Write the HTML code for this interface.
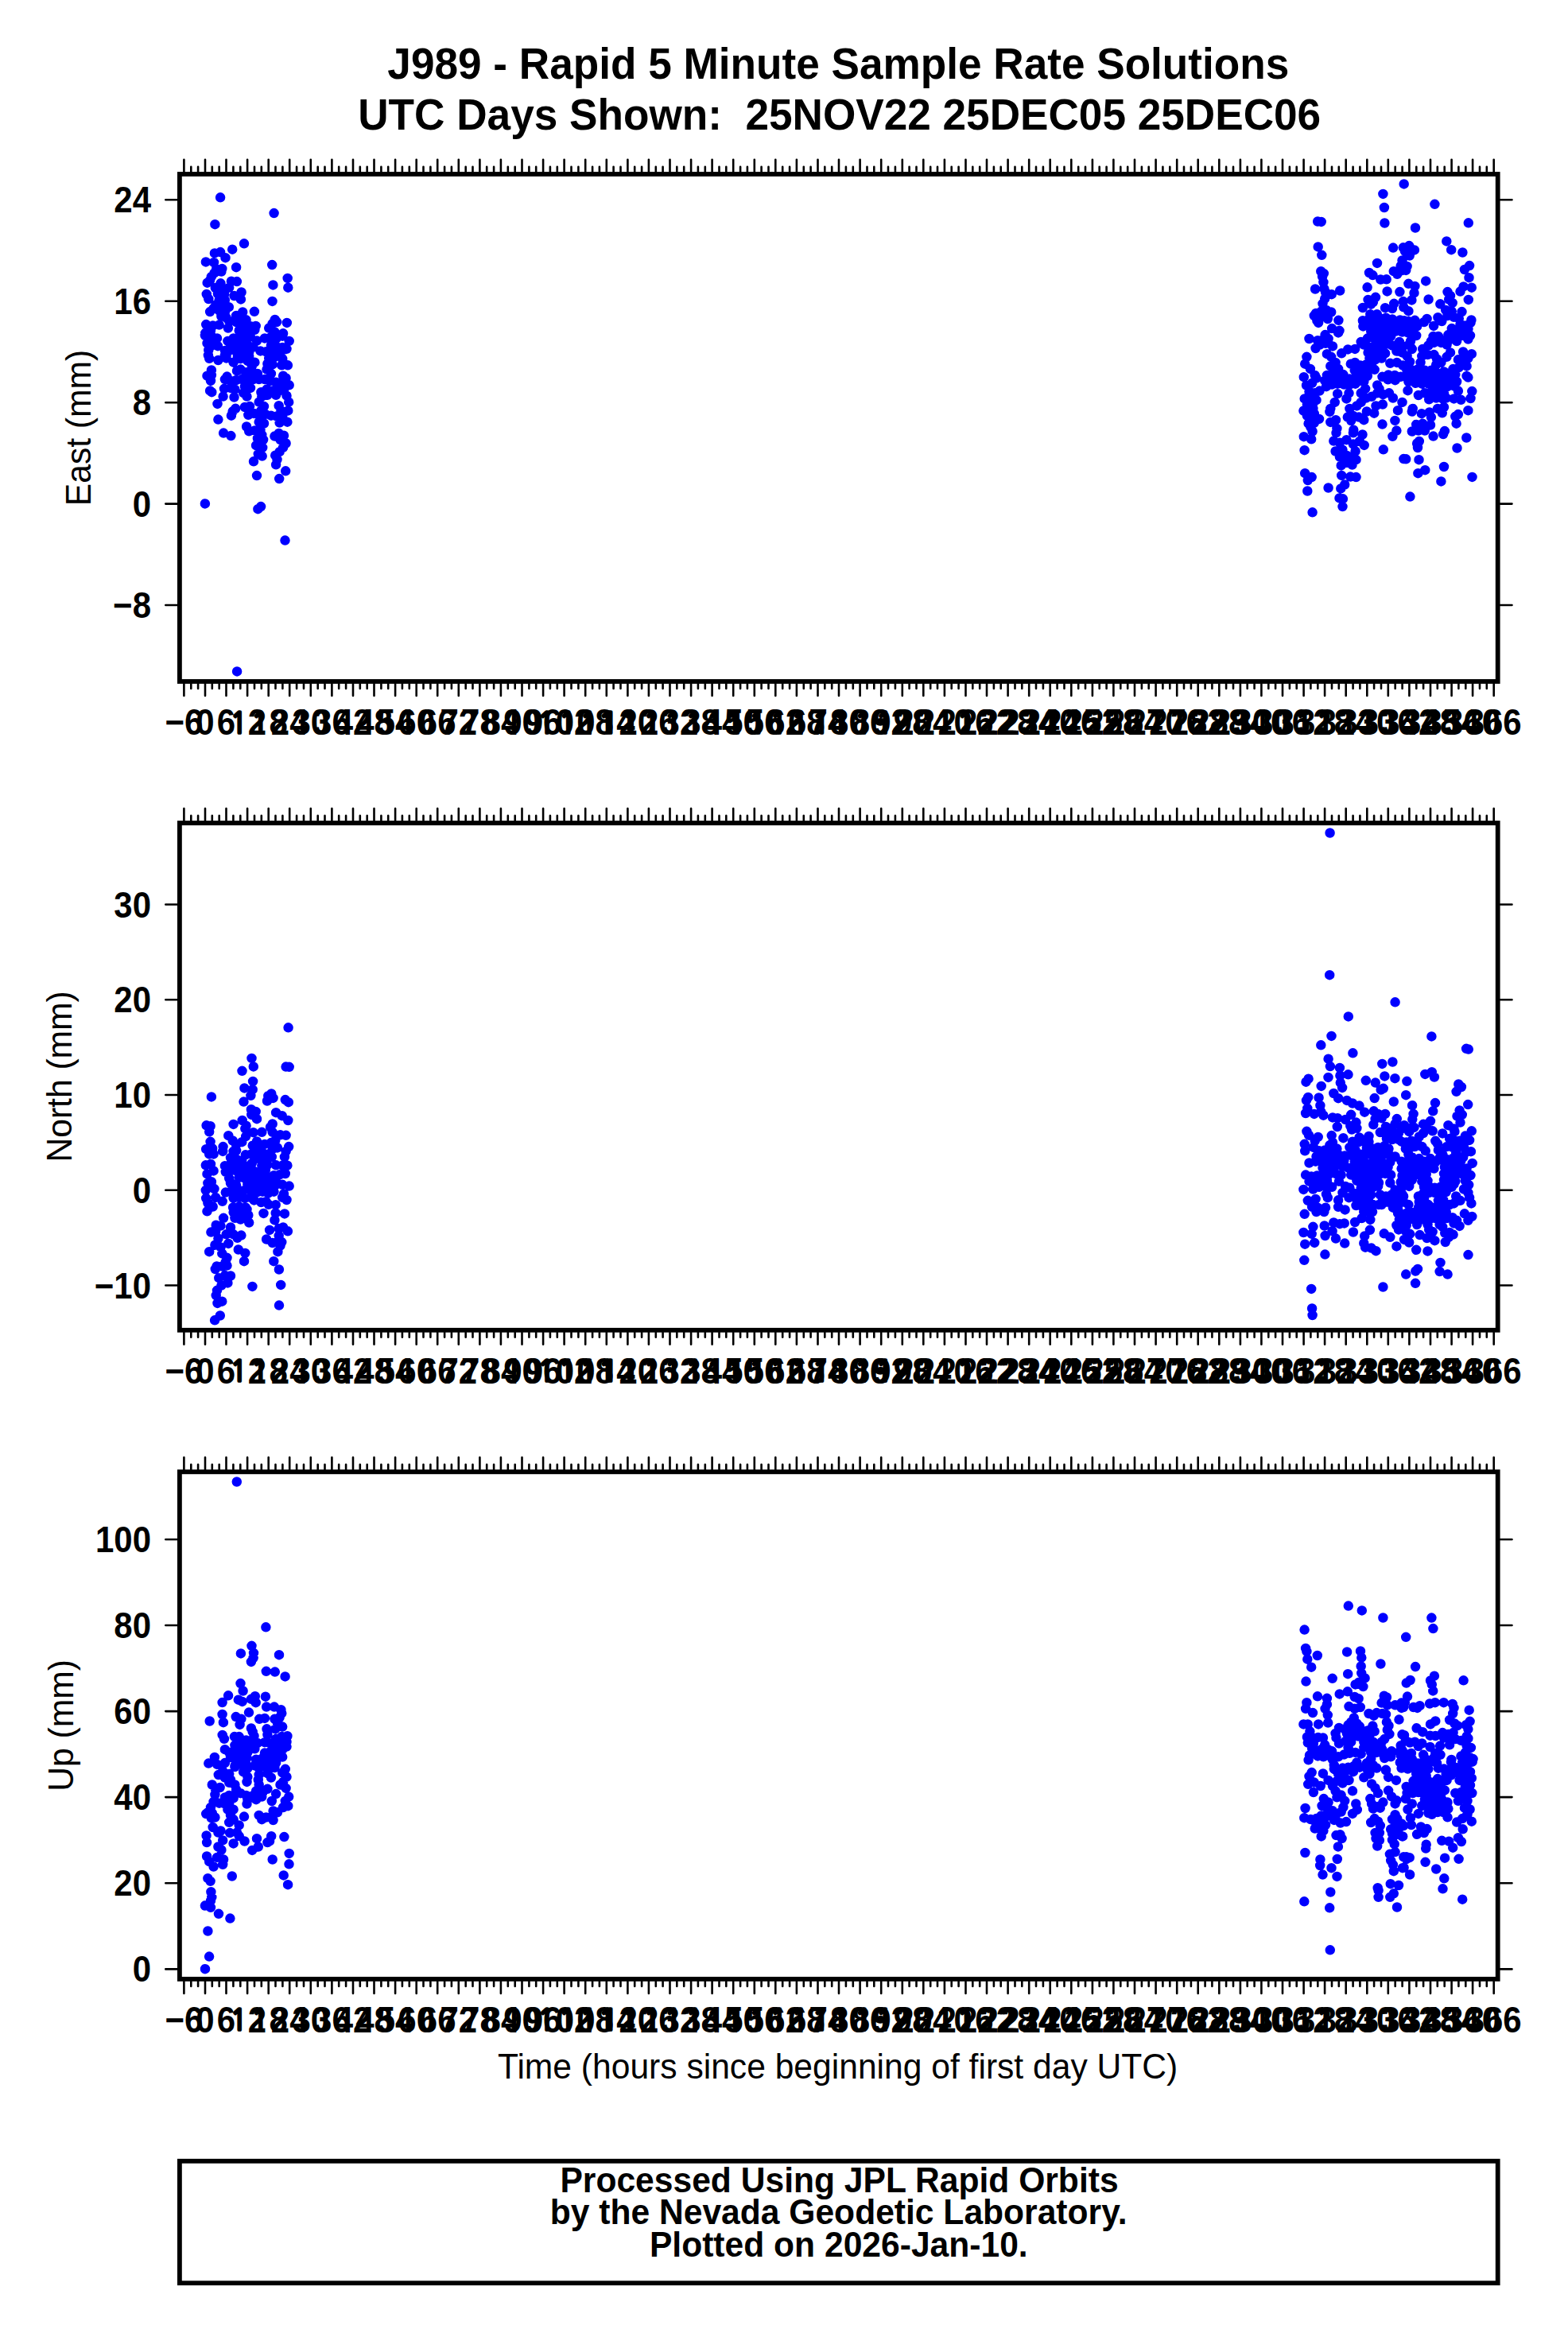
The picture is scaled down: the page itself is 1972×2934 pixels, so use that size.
<!DOCTYPE html><html><head><meta charset="utf-8"><title>J989 - Rapid 5 Minute Sample Rate Solutions</title><style>html,body{margin:0;padding:0;background:#fff;overflow:hidden}svg{display:block}text{font-family:"Liberation Sans",sans-serif;fill:#000}.b{font-weight:bold}.o{font-family:"NanumGothic","Liberation Sans",sans-serif;font-weight:normal;font-size:33.5px;stroke:#000;stroke-width:3.3px;letter-spacing:1.55px;stroke-linejoin:miter;stroke-miterlimit:10}</style></head><body>
<svg width="1972" height="2934" viewBox="0 0 1972 2934">
<rect width="1972" height="2934" fill="#fff"/>
<path d="M277.1 248.3h0M344.6 268.1h0M270.4 282.2h0M307.0 306.3h0M292.2 313.7h0M277.1 317.1h0M269.9 318.4h0M283.5 324.2h0M258.9 329.4h0M269.0 330.0h0M297.1 336.2h0M342.2 333.1h0M279.3 338.0h0M272.1 338.5h0M278.4 341.6h0M269.5 343.4h0M265.9 347.9h0M361.7 349.9h0M260.7 355.7h0M264.1 352.3h0M343.4 358.4h0M362.3 361.7h0M277.5 356.3h0M290.9 353.7h0M297.9 354.1h0M270.8 362.1h0M279.3 362.1h0M288.2 361.7h0M303.6 367.5h0M259.8 370.0h0M262.3 376.0h0M273.9 369.3h0M282.0 370.2h0M294.5 372.0h0M302.9 376.4h0M342.5 378.9h0M275.7 377.3h0M282.9 377.3h0M271.2 383.6h0M279.3 384.5h0M287.8 386.2h0M264.1 392.1h0M268.6 388.0h0M275.7 390.7h0M282.9 392.5h0M305.2 392.5h0M319.9 391.8h0M297.1 397.0h0M345.8 401.9h0M360.8 405.9h0M278.4 397.9h0M284.6 399.6h0M288.2 404.1h0M302.5 399.6h0M309.6 402.3h0M342.7 406.8h0M259.2 408.1h0M267.7 409.5h0M275.7 408.6h0M286.9 412.6h0M338.2 412.6h0M321.7 409.9h0M301.6 408.6h0M309.6 409.5h0M315.9 410.4h0M258.3 418.8h0M265.0 415.7h0M356.1 419.3h0M345.4 417.5h0M300.7 415.7h0M307.9 416.6h0M315.0 417.5h0M320.4 414.8h0M297.1 405.0h0M348.0 405.0h0M257.9 421.8h0M265.9 422.7h0M273.0 425.4h0M260.5 431.6h0M267.7 429.8h0M273.9 435.2h0M286.4 428.9h0M293.6 425.4h0M300.7 423.6h0M307.9 424.5h0M315.0 423.6h0M323.0 428.5h0M332.9 425.4h0M340.0 424.5h0M347.1 426.2h0M355.2 422.7h0M363.7 428.9h0M290.0 435.2h0M297.1 433.4h0M304.3 432.5h0M311.4 433.4h0M316.8 437.0h0M340.9 434.3h0M348.0 436.1h0M355.2 437.0h0M360.5 438.8h0M327.5 441.4h0M334.6 442.3h0M261.9 446.8h0M263.2 450.8h0M274.4 453.0h0M282.9 446.8h0M284.6 450.4h0M293.6 455.7h0M298.9 446.8h0M302.5 451.2h0M313.2 447.7h0M311.4 453.9h0M320.4 455.7h0M316.8 460.2h0M338.2 450.4h0M344.5 449.5h0M355.2 451.2h0M336.4 457.5h0M342.7 458.4h0M354.3 459.3h0M361.9 459.3h0M265.9 465.5h0M260.5 472.7h0M265.9 471.8h0M265.0 478.9h0M266.3 493.2h0M264.1 491.4h0M285.5 473.6h0M282.9 477.1h0M298.0 466.4h0M302.5 464.6h0M309.6 468.2h0M316.8 466.4h0M323.9 470.0h0M335.5 464.6h0M340.9 470.0h0M356.1 472.7h0M359.6 475.4h0M290.0 478.9h0M297.1 478.0h0M304.3 477.1h0M311.4 477.1h0M318.6 477.1h0M325.7 477.1h0M332.9 477.1h0M340.0 478.9h0M347.1 480.7h0M354.3 481.6h0M363.7 484.3h0M282.0 488.8h0M290.0 487.9h0M295.4 489.6h0M307.9 486.1h0M315.0 487.9h0M328.4 493.2h0M335.5 489.6h0M342.7 491.4h0M349.8 492.3h0M357.0 490.5h0M280.6 498.6h0M294.5 499.5h0M306.1 494.1h0M310.5 498.6h0M329.3 498.6h0M336.4 496.8h0M347.1 496.8h0M360.5 497.7h0M273.5 507.9h0M325.7 505.7h0M363.2 505.7h0M296.2 513.8h0M292.7 517.3h0M290.9 522.7h0M307.9 512.0h0M314.1 511.1h0M332.0 511.1h0M350.7 510.2h0M328.4 516.4h0M353.4 516.4h0M362.3 516.4h0M312.3 521.8h0M319.5 520.0h0M326.6 521.8h0M333.8 520.9h0M340.9 522.7h0M348.0 523.6h0M355.2 523.6h0M274.4 527.6h0M325.7 530.7h0M332.0 532.5h0M351.6 531.6h0M361.4 530.7h0M310.1 536.5h0M313.2 542.3h0M320.4 541.4h0M327.5 540.5h0M281.1 544.6h0M290.4 548.1h0M329.3 546.8h0M323.9 551.2h0M331.1 553.0h0M350.7 545.0h0M345.4 548.6h0M357.0 547.7h0M352.5 553.0h0M359.6 557.5h0M322.1 560.2h0M330.2 562.9h0M356.1 562.9h0M324.8 570.9h0M329.7 573.6h0M351.6 568.2h0M346.2 572.7h0M348.5 578.0h0M319.0 580.3h0M347.1 584.3h0M359.2 592.3h0M323.0 598.1h0M351.2 602.1h0M257.9 633.4h0M328.1 637.1h0M324.4 640.2h0M358.5 679.6h0M298.1 844.4h0M262.3 440.2h0M265.9 434.8h0M282.9 441.1h0M290.0 440.2h0M297.1 441.1h0M304.3 441.1h0M311.4 448.2h0M315.9 454.5h0M284.6 447.3h0M298.9 449.1h0M306.1 449.1h0M313.2 442.9h0M318.6 436.6h0M338.2 442.0h0M345.4 445.5h0M352.5 442.9h0M358.8 439.3h0M340.0 448.2h0M355.2 451.8h0M1765.7 231.4h0M1739.4 243.9h0M1740.9 261.0h0M1741.4 280.5h0M1657.2 278.5h0M1661.7 278.9h0M1657.7 310.4h0M1662.3 320.8h0M1752.1 311.6h0M1764.8 311.3h0M1732.0 330.9h0M1763.5 327.4h0M1761.7 334.5h0M1661.3 341.2h0M1664.8 343.9h0M1663.1 347.9h0M1664.4 355.0h0M1722.0 343.0h0M1726.4 346.1h0M1752.8 341.2h0M1757.2 344.8h0M1763.9 339.9h0M1736.3 351.5h0M1743.7 351.3h0M1719.6 361.3h0M1654.1 363.5h0M1665.3 363.1h0M1667.1 367.5h0M1674.7 370.2h0M1685.2 365.5h0M1744.6 366.4h0M1760.4 367.1h0M1730.0 373.8h0M1720.6 376.9h0M1726.9 380.0h0M1724.2 382.7h0M1663.5 381.8h0M1666.2 375.6h0M1713.9 387.0h0M1753.2 381.8h0M1742.1 387.2h0M1751.0 388.1h0M1764.8 379.1h0M1765.3 386.3h0M1655.0 393.9h0M1661.7 391.6h0M1668.0 389.9h0M1674.2 392.5h0M1652.8 397.0h0M1659.9 398.8h0M1667.1 398.8h0M1656.4 403.2h0M1669.8 401.0h0M1658.1 405.9h0M1683.4 402.8h0M1723.3 395.2h0M1731.8 395.2h0M1713.9 403.2h0M1721.5 401.5h0M1728.7 402.4h0M1735.8 400.6h0M1743.0 399.7h0M1751.0 401.5h0M1760.8 402.4h0M1714.4 410.4h0M1722.4 408.6h0M1729.6 409.5h0M1737.6 407.7h0M1745.6 407.7h0M1753.7 408.6h0M1761.7 409.5h0M1675.1 413.1h0M1684.5 415.8h0M1683.1 418.4h0M1724.2 416.6h0M1731.4 418.4h0M1739.4 415.8h0M1747.4 415.8h0M1755.5 416.6h0M1763.5 417.5h0M1666.6 421.1h0M1670.6 426.0h0M1646.5 426.0h0M1657.2 428.2h0M1663.5 427.4h0M1711.7 430.0h0M1719.8 425.6h0M1726.9 424.7h0M1734.0 425.6h0M1742.1 423.8h0M1749.2 422.9h0M1759.9 430.0h0M1804.4 256.8h0M1846.8 280.3h0M1780.0 286.5h0M1819.3 303.4h0M1825.2 314.2h0M1839.4 317.5h0M1772.2 309.1h0M1778.9 314.4h0M1772.7 321.6h0M1766.9 315.8h0M1769.6 334.9h0M1768.2 339.9h0M1848.1 334.1h0M1841.9 339.0h0M1847.5 349.2h0M1793.2 353.4h0M1771.4 356.8h0M1779.4 359.9h0M1840.6 360.4h0M1850.8 361.7h0M1836.5 366.6h0M1778.5 368.4h0M1820.5 367.1h0M1824.0 372.0h0M1822.2 376.5h0M1826.7 380.9h0M1775.4 377.4h0M1796.6 376.5h0M1846.8 376.9h0M1811.3 382.3h0M1771.4 391.2h0M1818.2 389.9h0M1825.8 391.6h0M1838.5 392.1h0M1820.5 397.0h0M1828.5 398.8h0M1834.8 400.6h0M1808.4 399.2h0M1813.3 404.1h0M1794.6 401.0h0M1791.0 405.0h0M1779.4 402.8h0M1771.4 404.1h0M1766.0 403.2h0M1850.4 402.4h0M1849.5 405.9h0M1803.1 409.9h0M1782.1 410.4h0M1774.9 412.2h0M1768.7 411.3h0M1836.5 407.7h0M1842.8 409.5h0M1825.8 413.1h0M1833.0 414.9h0M1840.1 415.8h0M1846.4 414.0h0M1777.6 419.3h0M1770.5 418.4h0M1781.2 422.0h0M1802.6 422.9h0M1808.9 422.9h0M1821.4 421.1h0M1828.5 422.0h0M1835.6 422.9h0M1842.8 422.9h0M1849.0 422.0h0M1774.0 429.1h0M1799.9 429.1h0M1807.1 429.1h0M1816.0 428.2h0M1823.1 427.4h0M1832.1 429.1h0M1846.4 426.5h0M1654.6 438.0h0M1659.9 433.6h0M1676.0 435.4h0M1667.1 431.8h0M1643.4 448.8h0M1668.9 445.2h0M1674.2 448.8h0M1687.2 444.3h0M1695.2 439.4h0M1704.1 438.9h0M1715.3 433.6h0M1722.4 437.1h0M1729.6 433.6h0M1736.7 435.4h0M1743.9 432.7h0M1751.0 434.5h0M1758.1 433.6h0M1764.4 435.4h0M1720.6 443.4h0M1727.8 445.2h0M1734.9 443.4h0M1742.1 444.3h0M1756.4 441.6h0M1763.5 443.4h0M1722.4 450.5h0M1729.6 452.3h0M1737.6 450.5h0M1748.3 456.8h0M1756.8 455.9h0M1764.4 459.5h0M1641.2 457.7h0M1647.9 463.9h0M1679.6 455.9h0M1673.3 460.4h0M1683.1 463.9h0M1698.8 457.7h0M1704.1 455.9h0M1710.8 459.5h0M1718.0 458.6h0M1725.1 459.5h0M1703.7 465.7h0M1710.8 466.6h0M1718.0 465.7h0M1728.7 464.8h0M1639.8 474.2h0M1653.7 472.0h0M1655.5 475.5h0M1668.9 472.0h0M1676.0 470.2h0M1683.1 471.1h0M1689.4 471.1h0M1697.4 476.4h0M1704.6 474.6h0M1711.7 474.6h0M1719.8 472.9h0M1738.5 473.8h0M1746.1 471.5h0M1754.1 472.0h0M1761.7 473.8h0M1745.6 477.3h0M1754.6 478.2h0M1643.0 484.5h0M1650.1 481.8h0M1668.0 486.2h0M1675.1 483.6h0M1682.2 482.7h0M1690.3 483.6h0M1697.4 483.6h0M1704.6 482.7h0M1732.2 484.5h0M1734.5 488.9h0M1717.1 488.9h0M1711.7 494.3h0M1653.7 494.3h0M1659.5 491.6h0M1682.2 495.2h0M1696.5 494.3h0M1747.0 494.3h0M1751.9 500.5h0M1739.4 496.1h0M1732.2 494.3h0M1725.1 498.8h0M1718.0 500.5h0M1640.7 501.4h0M1647.9 503.2h0M1655.5 503.2h0M1693.4 501.4h0M1678.7 505.9h0M1673.3 513.9h0M1672.4 517.9h0M1711.7 505.9h0M1706.4 510.4h0M1730.5 510.4h0M1738.9 508.6h0M1763.5 505.9h0M1697.4 513.9h0M1639.4 516.6h0M1645.6 514.8h0M1651.4 513.9h0M1718.9 517.5h0M1728.2 519.7h0M1758.0 516.2h0M1647.4 525.5h0M1659.0 526.9h0M1694.8 524.6h0M1701.9 522.9h0M1709.0 524.6h0M1715.3 528.2h0M1699.2 529.1h0M1673.3 530.9h0M1680.0 528.2h0M1738.5 533.6h0M1754.4 528.9h0M1645.6 532.7h0M1648.3 537.1h0M1681.4 538.9h0M1680.5 544.3h0M1702.3 540.7h0M1701.9 544.3h0M1713.5 546.5h0M1650.6 542.5h0M1756.4 541.6h0M1751.4 548.8h0M1639.8 549.2h0M1649.2 552.3h0M1693.4 553.2h0M1677.3 554.6h0M1684.9 556.8h0M1709.9 555.0h0M1715.7 559.9h0M1701.9 558.6h0M1739.8 565.3h0M1640.6 566.2h0M1679.6 567.5h0M1688.5 565.7h0M1704.6 567.5h0M1684.9 574.6h0M1693.9 572.9h0M1702.8 576.4h0M1705.5 578.2h0M1686.7 585.4h0M1700.6 584.5h0M1693.9 581.8h0M1765.3 577.1h0M1641.2 595.2h0M1649.7 600.1h0M1644.8 604.1h0M1687.2 597.9h0M1698.3 599.6h0M1705.5 600.1h0M1691.2 609.5h0M1686.3 614.4h0M1670.6 613.5h0M1644.3 617.5h0M1684.5 626.4h0M1688.9 627.3h0M1688.5 637.1h0M1773.1 431.8h0M1775.8 438.9h0M1789.2 438.9h0M1796.4 434.5h0M1803.5 430.9h0M1812.4 430.9h0M1819.6 433.6h0M1824.0 443.4h0M1819.6 448.8h0M1840.1 442.5h0M1850.8 445.2h0M1846.4 450.5h0M1769.6 447.9h0M1773.1 455.0h0M1788.3 447.9h0M1795.5 446.1h0M1803.5 446.1h0M1807.1 451.4h0M1786.5 455.9h0M1806.2 458.6h0M1812.4 455.9h0M1833.9 452.3h0M1841.0 454.1h0M1844.6 460.4h0M1827.6 463.9h0M1834.8 462.1h0M1768.7 463.9h0M1776.7 465.7h0M1783.9 463.9h0M1791.9 465.7h0M1799.9 465.7h0M1805.3 467.5h0M1816.0 467.5h0M1823.1 469.3h0M1830.3 471.1h0M1844.6 472.9h0M1846.4 474.6h0M1769.6 472.9h0M1777.6 473.8h0M1784.8 472.9h0M1792.8 472.9h0M1800.8 474.6h0M1808.9 476.4h0M1816.9 475.5h0M1824.9 477.3h0M1832.1 480.0h0M1771.4 480.0h0M1780.3 481.8h0M1788.3 482.7h0M1796.4 482.7h0M1804.4 483.6h0M1812.4 484.5h0M1820.5 486.2h0M1828.5 485.4h0M1770.5 491.2h0M1833.9 491.6h0M1851.3 492.1h0M1783.9 497.0h0M1791.9 494.3h0M1799.9 492.5h0M1808.0 493.4h0M1816.0 494.3h0M1797.2 502.3h0M1806.2 500.5h0M1814.2 501.4h0M1818.7 500.5h0M1828.5 501.4h0M1837.4 502.8h0M1849.5 501.0h0M1776.7 513.9h0M1775.8 517.5h0M1808.0 513.9h0M1816.0 512.1h0M1813.8 519.3h0M1846.4 516.2h0M1787.9 520.2h0M1797.7 518.4h0M1799.9 524.6h0M1833.9 521.1h0M1830.3 523.8h0M1831.6 532.7h0M1781.2 534.0h0M1789.2 532.7h0M1799.0 534.5h0M1816.9 542.1h0M1815.1 546.1h0M1775.8 542.5h0M1783.9 541.6h0M1791.9 541.6h0M1802.6 548.6h0M1844.3 550.5h0M1784.8 555.0h0M1782.1 557.7h0M1783.0 563.0h0M1832.5 563.5h0M1768.2 577.3h0M1784.5 578.2h0M1816.0 587.0h0M1792.3 591.2h0M1783.4 595.2h0M1851.5 599.9h0M1812.4 605.4h0M1773.4 624.6h0M1650.6 644.3h0M1666.2 478.7h0M1672.4 477.3h0M1678.7 476.9h0M1684.9 476.9h0M1691.2 477.3h0M1695.6 480.0h0M1701.9 479.1h0M1709.0 479.1h0M1715.3 480.0h0M1646.5 492.5h0M1651.0 497.9h0M1643.9 508.6h0M1651.0 508.6h0M1652.8 520.2h0M1643.9 522.9h0M1652.8 531.8h0M362.6 1292.3h0M316.5 1330.9h0M318.8 1341.4h0M304.5 1346.8h0M359.6 1341.6h0M363.7 1341.8h0M318.1 1359.9h0M307.4 1368.4h0M317.7 1370.2h0M315.4 1377.8h0M265.9 1379.4h0M306.5 1385.6h0M341.3 1375.5h0M343.6 1380.9h0M336.0 1384.5h0M337.3 1378.2h0M358.8 1383.1h0M362.8 1386.2h0M315.9 1395.2h0M321.7 1397.9h0M316.3 1401.9h0M323.0 1407.2h0M347.1 1399.2h0M354.7 1403.2h0M362.3 1409.0h0M304.7 1409.0h0M293.6 1413.9h0M309.6 1415.7h0M308.3 1419.3h0M259.6 1415.3h0M264.6 1416.2h0M263.2 1423.3h0M342.7 1413.5h0M340.0 1417.5h0M342.7 1423.8h0M318.6 1424.2h0M329.3 1423.8h0M352.5 1427.3h0M359.6 1427.8h0M287.3 1428.2h0M292.7 1434.5h0M297.1 1439.8h0M309.2 1429.1h0M304.3 1436.2h0M264.6 1435.8h0M323.0 1435.4h0M332.9 1438.9h0M340.9 1437.1h0M346.2 1434.5h0M317.7 1440.7h0M325.7 1443.4h0M259.2 1445.2h0M267.2 1444.3h0M263.2 1451.4h0M268.6 1451.4h0M280.6 1442.1h0M280.2 1447.9h0M293.6 1447.9h0M297.1 1447.0h0M363.2 1442.1h0M359.6 1447.9h0M357.9 1455.0h0M348.9 1443.4h0M342.7 1445.2h0M308.8 1452.3h0M315.9 1451.4h0M323.0 1450.5h0M330.2 1449.6h0M337.3 1451.4h0M341.8 1455.0h0M290.0 1455.9h0M297.1 1457.7h0M304.3 1459.5h0M320.4 1457.7h0M327.5 1456.8h0M334.6 1458.6h0M258.8 1465.3h0M265.0 1463.9h0M282.9 1466.2h0M290.0 1463.9h0M297.1 1464.8h0M304.3 1466.6h0M310.5 1467.5h0M316.8 1463.0h0M329.3 1465.7h0M336.4 1464.8h0M347.1 1465.3h0M355.2 1465.7h0M361.4 1465.7h0M268.6 1472.4h0M260.5 1476.4h0M283.8 1473.8h0M290.9 1472.0h0M298.0 1472.9h0M305.2 1474.6h0M312.3 1473.8h0M319.5 1472.9h0M326.6 1473.8h0M333.8 1472.0h0M358.8 1476.0h0M351.6 1477.3h0M344.5 1478.2h0M288.2 1481.8h0M300.7 1480.9h0M307.9 1481.8h0M315.0 1480.9h0M322.1 1480.9h0M329.3 1480.9h0M336.4 1480.0h0M265.9 1486.2h0M261.4 1488.0h0M290.0 1487.1h0M311.4 1487.1h0M318.6 1487.1h0M325.7 1487.1h0M332.9 1487.1h0M340.0 1486.2h0M347.1 1484.5h0M262.3 1488.0h0M258.8 1496.9h0M269.5 1495.1h0M290.0 1488.0h0M297.1 1490.7h0M311.4 1489.8h0M318.6 1490.7h0M325.7 1489.8h0M332.9 1490.7h0M340.0 1489.8h0M347.1 1489.8h0M355.2 1489.8h0M363.7 1491.6h0M283.8 1499.6h0M290.9 1497.8h0M298.0 1498.7h0M305.2 1497.8h0M315.9 1497.8h0M323.0 1499.6h0M330.2 1498.7h0M337.3 1500.5h0M344.5 1498.7h0M357.0 1501.4h0M355.2 1505.9h0M360.5 1509.0h0M259.2 1506.8h0M261.4 1513.0h0M271.2 1505.9h0M279.7 1510.8h0M293.6 1506.8h0M300.7 1505.9h0M307.9 1506.8h0M315.0 1505.9h0M319.5 1509.4h0M328.4 1512.1h0M334.6 1511.2h0M337.8 1514.8h0M346.7 1515.2h0M267.7 1517.5h0M260.5 1523.3h0M293.1 1518.4h0M300.7 1517.5h0M308.8 1518.4h0M310.5 1521.0h0M331.5 1525.9h0M346.7 1525.5h0M357.9 1526.4h0M281.1 1531.8h0M295.4 1531.8h0M302.5 1530.0h0M312.3 1528.2h0M302.5 1533.5h0M345.4 1534.4h0M313.2 1537.6h0M271.7 1540.7h0M277.5 1541.6h0M290.0 1543.4h0M339.1 1546.9h0M350.7 1545.1h0M356.1 1543.4h0M361.9 1548.3h0M265.4 1549.6h0M271.2 1548.7h0M284.6 1552.3h0M293.6 1552.3h0M303.4 1553.6h0M298.5 1556.8h0M350.7 1554.1h0M274.4 1557.6h0M335.1 1558.5h0M342.7 1563.0h0M349.8 1561.2h0M354.3 1562.1h0M287.3 1563.9h0M270.4 1565.7h0M277.5 1568.4h0M352.5 1566.6h0M263.2 1574.2h0M299.8 1571.5h0M308.3 1575.9h0M349.4 1574.2h0M279.3 1576.4h0M285.5 1581.8h0M307.0 1586.2h0M344.3 1586.2h0M272.6 1592.5h0M270.8 1596.0h0M279.3 1592.5h0M285.5 1591.6h0M283.8 1587.1h0M350.9 1596.5h0M290.0 1604.5h0M282.9 1604.1h0M275.3 1607.2h0M286.4 1613.4h0M278.4 1616.6h0M317.4 1617.9h0M353.2 1615.9h0M273.0 1622.8h0M271.7 1629.1h0M279.3 1636.7h0M273.5 1638.9h0M351.0 1641.6h0M276.8 1654.5h0M270.1 1660.3h0M293.6 1524.6h0M300.7 1523.7h0M307.9 1524.6h0M297.1 1527.3h0M306.1 1528.2h0M1672.6 1047.5h0M1672.2 1226.2h0M1754.6 1260.3h0M1695.8 1278.4h0M1674.5 1302.9h0M1661.3 1314.3h0M1701.4 1324.3h0M1670.6 1331.7h0M1672.9 1341.1h0M1684.9 1342.9h0M1738.3 1337.9h0M1751.4 1335.5h0M1695.5 1351.3h0M1685.4 1352.7h0M1670.5 1354.9h0M1645.6 1356.7h0M1642.5 1360.7h0M1741.4 1353.4h0M1754.4 1356.2h0M1717.8 1358.8h0M1729.8 1361.6h0M1685.8 1361.6h0M1688.1 1367.9h0M1661.7 1365.9h0M1739.8 1368.8h0M1736.7 1370.5h0M1677.3 1375.0h0M1683.1 1381.2h0M1645.2 1379.9h0M1643.0 1383.9h0M1658.6 1380.4h0M1660.4 1390.2h0M1728.7 1381.1h0M1752.8 1385.5h0M1693.9 1383.9h0M1701.0 1387.5h0M1709.5 1390.6h0M1644.3 1393.8h0M1642.1 1400.0h0M1652.8 1400.9h0M1716.2 1398.7h0M1661.3 1398.2h0M1664.4 1402.7h0M1727.8 1397.3h0M1733.1 1400.9h0M1742.1 1400.9h0M1676.0 1405.4h0M1682.2 1406.2h0M1699.2 1401.8h0M1692.1 1408.0h0M1705.5 1411.6h0M1737.6 1406.2h0M1729.6 1407.1h0M1756.8 1407.1h0M1754.6 1413.4h0M1727.3 1414.3h0M1681.8 1417.0h0M1698.3 1416.1h0M1706.4 1418.8h0M1700.1 1420.5h0M1743.0 1417.0h0M1750.1 1418.8h0M1735.8 1424.1h0M1743.0 1425.0h0M1751.0 1425.9h0M1759.0 1425.0h0M1762.6 1419.6h0M1643.4 1422.8h0M1646.1 1427.7h0M1657.7 1429.9h0M1653.7 1434.8h0M1674.7 1428.1h0M1689.4 1431.2h0M1709.5 1430.4h0M1721.5 1429.0h0M1759.0 1433.0h0M1751.0 1433.0h0M1743.9 1432.1h0M1762.6 1435.7h0M1640.7 1438.8h0M1676.0 1436.6h0M1672.4 1440.2h0M1701.0 1435.7h0M1708.1 1436.6h0M1715.3 1435.7h0M1721.5 1435.7h0M1641.2 1447.3h0M1651.9 1442.9h0M1659.0 1447.3h0M1666.2 1446.4h0M1674.2 1446.4h0M1681.4 1444.6h0M1697.4 1442.9h0M1704.6 1446.4h0M1718.9 1443.8h0M1726.0 1444.6h0M1733.1 1442.9h0M1741.2 1441.1h0M1746.5 1444.6h0M1655.5 1454.5h0M1662.6 1454.5h0M1669.8 1453.6h0M1676.9 1453.6h0M1684.0 1452.7h0M1691.2 1453.6h0M1698.3 1452.7h0M1704.6 1454.5h0M1711.7 1451.8h0M1718.9 1451.8h0M1726.0 1452.7h0M1733.1 1451.8h0M1740.3 1451.8h0M1747.4 1452.7h0M1754.6 1454.5h0M1800.4 1303.4h0M1844.1 1318.8h0M1846.8 1319.6h0M1800.8 1348.2h0M1792.3 1350.9h0M1803.9 1354.5h0M1769.4 1359.8h0M1834.3 1363.4h0M1837.9 1367.0h0M1831.6 1372.8h0M1768.2 1377.2h0M1805.0 1387.1h0M1776.1 1390.2h0M1846.2 1389.1h0M1802.2 1397.3h0M1835.6 1396.4h0M1838.8 1401.8h0M1832.5 1403.6h0M1777.6 1400.9h0M1776.3 1407.6h0M1799.0 1409.8h0M1790.1 1413.8h0M1836.5 1411.6h0M1821.4 1415.2h0M1828.5 1419.6h0M1829.4 1423.2h0M1850.8 1422.3h0M1766.0 1415.2h0M1771.4 1418.8h0M1778.5 1417.9h0M1772.2 1423.2h0M1814.2 1425.4h0M1795.5 1419.6h0M1801.7 1422.3h0M1790.1 1425.0h0M1784.8 1429.5h0M1842.8 1428.6h0M1848.1 1433.9h0M1774.9 1434.8h0M1768.7 1436.6h0M1782.1 1435.7h0M1805.3 1434.8h0M1808.0 1438.4h0M1823.1 1432.1h0M1828.5 1433.9h0M1835.6 1434.8h0M1842.8 1435.7h0M1788.3 1442.0h0M1792.8 1447.3h0M1773.1 1443.8h0M1767.8 1444.6h0M1779.4 1442.0h0M1819.6 1442.0h0M1826.7 1442.9h0M1833.9 1442.0h0M1841.0 1442.9h0M1808.9 1446.4h0M1814.2 1451.8h0M1849.9 1448.2h0M1843.7 1449.1h0M1831.2 1450.0h0M1771.4 1451.8h0M1775.8 1455.4h0M1784.8 1457.1h0M1799.0 1457.1h0M1810.6 1456.2h0M1817.8 1457.1h0M1826.7 1457.1h0M1833.9 1456.2h0M1840.1 1455.4h0M1646.5 1462.5h0M1654.6 1460.7h0M1661.7 1459.8h0M1668.9 1461.6h0M1676.0 1459.8h0M1683.1 1461.6h0M1690.3 1459.8h0M1703.7 1460.7h0M1710.8 1459.8h0M1718.0 1463.4h0M1726.9 1460.7h0M1734.0 1459.8h0M1741.2 1463.4h0M1748.3 1461.6h0M1762.6 1460.7h0M1663.5 1468.7h0M1670.6 1467.8h0M1678.7 1466.9h0M1688.5 1466.9h0M1695.6 1468.7h0M1702.8 1467.8h0M1709.9 1466.9h0M1717.1 1468.7h0M1724.2 1467.8h0M1731.4 1466.9h0M1738.5 1468.7h0M1745.6 1467.8h0M1762.6 1469.6h0M1642.1 1477.6h0M1649.2 1479.4h0M1656.4 1478.5h0M1663.5 1476.8h0M1670.6 1477.6h0M1679.6 1475.9h0M1686.7 1477.6h0M1699.2 1477.6h0M1706.4 1475.9h0M1713.5 1476.8h0M1720.6 1475.9h0M1727.8 1477.6h0M1734.9 1476.8h0M1742.1 1475.9h0M1749.2 1477.6h0M1763.5 1478.5h0M1646.5 1485.7h0M1653.7 1487.5h0M1661.7 1485.7h0M1668.9 1484.8h0M1684.0 1485.7h0M1706.4 1484.8h0M1713.5 1485.7h0M1720.6 1484.8h0M1727.8 1485.7h0M1734.0 1487.5h0M1748.3 1487.5h0M1761.7 1486.6h0M1639.4 1495.9h0M1651.4 1495.5h0M1659.0 1492.8h0M1667.1 1491.9h0M1675.1 1492.8h0M1692.1 1491.9h0M1697.4 1493.7h0M1711.7 1493.7h0M1718.9 1492.8h0M1726.0 1493.7h0M1733.1 1491.9h0M1754.6 1496.4h0M1762.6 1493.7h0M1668.0 1501.8h0M1669.8 1506.2h0M1688.5 1500.0h0M1696.5 1506.2h0M1703.7 1500.9h0M1710.8 1501.8h0M1718.0 1500.9h0M1724.2 1502.6h0M1735.8 1502.6h0M1743.0 1504.4h0M1750.1 1502.6h0M1757.2 1503.5h0M1763.5 1501.8h0M1644.8 1509.8h0M1654.6 1508.0h0M1683.1 1509.3h0M1706.4 1508.9h0M1713.5 1509.8h0M1720.6 1508.9h0M1738.5 1510.7h0M1745.6 1511.6h0M1752.8 1510.7h0M1759.9 1509.8h0M1765.3 1511.6h0M1650.1 1517.8h0M1657.2 1518.7h0M1667.1 1518.7h0M1683.1 1517.8h0M1691.6 1521.4h0M1705.5 1516.0h0M1712.6 1516.9h0M1719.8 1516.0h0M1726.9 1515.1h0M1734.0 1515.1h0M1737.6 1515.1h0M1751.9 1518.7h0M1758.1 1520.5h0M1640.7 1526.8h0M1655.5 1524.1h0M1665.3 1524.1h0M1715.3 1524.1h0M1722.4 1525.0h0M1726.0 1524.1h0M1758.1 1525.9h0M1764.4 1527.6h0M1712.6 1532.1h0M1723.3 1533.9h0M1759.9 1533.9h0M1677.3 1537.5h0M1684.9 1539.2h0M1690.7 1538.4h0M1665.7 1541.5h0M1704.1 1537.0h0M1651.4 1542.8h0M1756.4 1541.0h0M1763.5 1542.8h0M1759.0 1546.4h0M1639.4 1550.0h0M1649.7 1551.8h0M1675.6 1548.2h0M1666.6 1554.0h0M1680.0 1557.6h0M1701.9 1549.5h0M1722.9 1546.8h0M1716.2 1554.4h0M1715.3 1563.4h0M1717.1 1568.7h0M1724.7 1569.6h0M1730.5 1573.2h0M1740.7 1551.3h0M1748.3 1555.8h0M1641.2 1564.7h0M1653.2 1562.9h0M1691.2 1563.6h0M1756.4 1567.4h0M1666.4 1577.6h0M1640.3 1584.8h0M1739.4 1618.5h0M1649.2 1620.9h0M1650.1 1645.5h0M1650.6 1654.0h0M1769.6 1460.7h0M1776.7 1459.8h0M1783.9 1461.6h0M1791.0 1460.7h0M1798.1 1459.8h0M1805.3 1461.6h0M1816.0 1460.7h0M1823.1 1459.8h0M1830.3 1461.6h0M1837.4 1459.8h0M1851.7 1462.9h0M1768.7 1467.8h0M1775.8 1468.7h0M1783.0 1467.8h0M1790.1 1469.6h0M1797.2 1467.8h0M1803.5 1469.6h0M1816.9 1467.8h0M1824.0 1466.0h0M1830.3 1468.7h0M1837.4 1467.8h0M1844.6 1469.6h0M1767.8 1477.6h0M1774.9 1477.6h0M1782.1 1476.8h0M1789.2 1478.5h0M1793.7 1476.8h0M1816.0 1475.9h0M1823.1 1476.8h0M1830.3 1477.6h0M1837.4 1475.9h0M1844.6 1476.8h0M1849.5 1478.1h0M1768.7 1485.7h0M1775.8 1483.9h0M1788.3 1485.7h0M1795.5 1484.8h0M1816.0 1483.9h0M1823.1 1484.8h0M1830.3 1485.7h0M1842.8 1484.8h0M1847.2 1490.1h0M1772.2 1491.9h0M1791.0 1492.8h0M1797.2 1491.9h0M1804.4 1493.7h0M1811.5 1492.8h0M1818.7 1491.9h0M1825.8 1492.8h0M1828.5 1489.2h0M1841.0 1495.5h0M1846.4 1500.0h0M1765.1 1504.4h0M1783.9 1504.4h0M1790.1 1500.9h0M1797.2 1500.0h0M1804.4 1500.0h0M1811.5 1500.9h0M1818.7 1499.1h0M1831.2 1504.4h0M1836.5 1509.8h0M1848.1 1506.2h0M1771.4 1515.1h0M1784.8 1511.6h0M1791.0 1508.0h0M1796.4 1515.1h0M1808.9 1509.8h0M1815.1 1508.9h0M1823.1 1515.1h0M1828.5 1513.4h0M1850.4 1513.4h0M1783.9 1518.7h0M1791.0 1519.6h0M1803.5 1518.7h0M1810.6 1516.9h0M1816.9 1517.8h0M1768.7 1525.9h0M1775.8 1525.0h0M1783.0 1525.9h0M1790.1 1526.8h0M1797.2 1525.0h0M1804.4 1525.9h0M1811.5 1525.0h0M1818.7 1524.1h0M1841.9 1526.3h0M1851.3 1529.9h0M1767.8 1533.0h0M1776.7 1533.0h0M1783.9 1532.1h0M1791.0 1533.9h0M1798.1 1533.0h0M1805.3 1532.1h0M1812.4 1533.9h0M1819.6 1532.1h0M1826.7 1531.2h0M1832.1 1534.8h0M1846.4 1534.8h0M1768.7 1541.0h0M1782.1 1540.1h0M1795.5 1540.1h0M1810.6 1540.1h0M1814.2 1542.8h0M1835.6 1541.9h0M1828.5 1538.4h0M1767.8 1548.2h0M1773.1 1551.8h0M1797.2 1546.4h0M1801.7 1549.1h0M1785.6 1553.1h0M1794.6 1557.1h0M1804.4 1560.2h0M1817.3 1550.9h0M1823.1 1550.0h0M1827.6 1552.6h0M1821.8 1556.2h0M1817.8 1562.0h0M1766.0 1558.9h0M1772.2 1562.5h0M1781.2 1571.8h0M1795.5 1573.4h0M1846.5 1578.1h0M1811.5 1587.9h0M1783.0 1595.9h0M1780.3 1598.6h0M1810.6 1599.1h0M1820.6 1602.6h0M1768.2 1602.6h0M1780.1 1613.8h0M297.8 1863.5h0M334.4 2046.3h0M316.5 2069.8h0M319.0 2078.8h0M318.6 2085.0h0M315.9 2089.9h0M302.9 2079.4h0M351.0 2081.2h0M334.8 2101.8h0M345.8 2102.6h0M358.6 2108.4h0M302.5 2117.1h0M305.6 2126.5h0M287.1 2132.3h0M279.6 2141.1h0M333.9 2133.7h0M299.8 2137.7h0M304.7 2139.9h0M320.8 2133.2h0M315.9 2136.8h0M321.7 2141.2h0M335.1 2146.6h0M344.9 2146.6h0M353.4 2150.2h0M354.3 2154.6h0M313.0 2153.6h0M279.6 2156.0h0M280.9 2166.2h0M263.7 2164.5h0M296.7 2159.1h0M303.4 2161.8h0M301.6 2168.9h0M326.2 2161.8h0M332.9 2160.9h0M345.4 2161.8h0M351.6 2160.0h0M348.9 2167.1h0M355.2 2171.6h0M315.9 2173.4h0M317.7 2177.9h0M319.5 2183.2h0M335.5 2174.3h0M336.4 2181.4h0M346.2 2174.3h0M279.7 2181.9h0M282.0 2186.8h0M294.9 2184.1h0M300.7 2184.1h0M361.4 2183.2h0M354.3 2184.1h0M347.1 2186.8h0M360.5 2190.4h0M353.4 2192.1h0M346.2 2193.9h0M339.1 2192.1h0M332.9 2191.2h0M309.6 2188.6h0M316.8 2190.4h0M323.9 2192.1h0M295.4 2194.8h0M302.5 2193.9h0M282.9 2200.2h0M288.2 2203.8h0M360.5 2196.6h0M355.2 2200.2h0M309.6 2195.7h0M320.4 2199.3h0M316.8 2196.6h0M297.1 2202.9h0M304.3 2204.6h0M311.4 2203.8h0M332.9 2204.6h0M340.0 2202.9h0M347.1 2204.6h0M269.9 2210.0h0M273.0 2218.9h0M262.3 2217.6h0M282.9 2217.1h0M290.0 2210.0h0M297.1 2210.9h0M304.3 2211.8h0M310.5 2210.9h0M322.1 2212.7h0M329.3 2211.8h0M336.4 2210.9h0M343.6 2210.0h0M355.2 2209.6h0M295.4 2220.7h0M302.5 2218.9h0M308.8 2217.1h0M320.4 2219.8h0M327.5 2218.9h0M334.6 2218.0h0M341.8 2218.9h0M347.1 2217.1h0M274.4 2304.6h0M259.6 2308.4h0M260.1 2317.1h0M289.1 2305.1h0M298.0 2304.6h0M300.7 2309.1h0M307.6 2315.5h0M323.0 2312.2h0M341.2 2309.2h0M339.1 2315.3h0M336.4 2317.1h0M357.4 2310.1h0M280.2 2314.4h0M293.6 2318.4h0M274.4 2322.5h0M278.4 2326.5h0M324.8 2322.5h0M317.2 2326.9h0M363.7 2330.9h0M342.7 2338.5h0M260.1 2334.5h0M263.2 2341.2h0M268.6 2347.5h0M273.0 2335.9h0M281.1 2338.5h0M280.2 2344.8h0M363.5 2344.3h0M291.8 2359.5h0M261.4 2362.2h0M264.6 2365.8h0M356.7 2358.4h0M362.1 2370.2h0M265.4 2379.2h0M266.3 2385.9h0M265.0 2390.3h0M257.9 2396.6h0M265.0 2398.8h0M275.0 2406.8h0M289.4 2412.6h0M261.4 2428.5h0M263.1 2460.6h0M258.0 2476.2h0M306.1 2228.4h0M310.5 2240.9h0M311.4 2234.6h0M320.4 2220.4h0M325.7 2223.9h0M332.9 2222.1h0M340.0 2223.9h0M345.4 2223.0h0M274.8 2232.0h0M280.2 2227.5h0M282.9 2235.5h0M288.2 2231.1h0M358.8 2224.8h0M355.2 2229.3h0M340.9 2235.5h0M336.4 2230.2h0M325.7 2232.0h0M324.8 2238.2h0M325.7 2244.5h0M360.5 2234.6h0M356.1 2240.9h0M288.2 2241.8h0M295.4 2244.5h0M290.0 2238.2h0M266.8 2244.5h0M271.2 2250.7h0M276.6 2248.0h0M352.5 2244.5h0M359.6 2248.9h0M336.4 2249.8h0M330.2 2254.3h0M322.1 2252.5h0M318.6 2257.9h0M323.9 2259.6h0M329.3 2259.6h0M297.1 2250.7h0M302.5 2255.2h0M309.6 2257.9h0M311.4 2263.2h0M270.4 2257.0h0M282.9 2260.5h0M288.2 2257.9h0M293.6 2261.4h0M347.1 2256.1h0M341.8 2265.0h0M363.2 2259.6h0M358.8 2265.0h0M322.1 2263.2h0M310.5 2268.6h0M268.6 2265.9h0M275.7 2267.7h0M282.9 2268.6h0M288.2 2268.6h0M362.3 2271.2h0M356.1 2273.0h0M265.0 2273.0h0M261.4 2279.3h0M266.8 2280.2h0M286.4 2275.7h0M293.6 2275.7h0M343.6 2277.5h0M348.9 2279.3h0M341.8 2284.6h0M325.7 2282.9h0M329.3 2288.2h0M307.0 2284.6h0M290.0 2282.9h0M293.6 2288.2h0M265.9 2286.4h0M270.4 2285.5h0M288.2 2291.8h0M300.7 2295.4h0M343.6 2289.1h0M267.7 2298.0h0M277.5 2302.5h0M295.4 2222.1h0M311.4 2223.9h0M259.2 2281.1h0M334.6 2285.5h0M1695.8 2019.6h0M1712.8 2025.4h0M1739.4 2034.5h0M1640.6 2049.6h0M1642.1 2072.9h0M1643.4 2076.9h0M1644.3 2086.7h0M1649.2 2096.7h0M1656.8 2082.0h0M1694.1 2077.5h0M1711.0 2076.4h0M1712.3 2084.7h0M1711.7 2095.4h0M1712.2 2104.1h0M1716.6 2110.4h0M1736.4 2092.5h0M1695.2 2105.2h0M1675.7 2110.8h0M1642.5 2114.6h0M1704.6 2118.4h0M1714.4 2121.1h0M1709.0 2115.7h0M1694.8 2127.3h0M1684.7 2130.4h0M1657.0 2133.3h0M1668.9 2135.8h0M1668.9 2143.4h0M1666.6 2148.8h0M1669.8 2156.8h0M1670.2 2166.6h0M1643.4 2141.2h0M1642.1 2148.8h0M1651.0 2154.1h0M1703.7 2134.0h0M1708.6 2136.2h0M1740.7 2132.7h0M1743.9 2134.5h0M1737.6 2141.6h0M1744.8 2144.3h0M1754.6 2144.3h0M1762.6 2141.6h0M1762.6 2147.9h0M1696.5 2146.1h0M1703.7 2148.8h0M1710.8 2147.0h0M1721.5 2155.0h0M1727.8 2157.7h0M1731.4 2154.1h0M1738.5 2155.0h0M1743.0 2155.9h0M1759.5 2162.6h0M1639.4 2168.4h0M1644.8 2168.4h0M1647.4 2177.3h0M1658.1 2168.4h0M1702.8 2160.4h0M1699.2 2165.7h0M1706.4 2167.5h0M1695.6 2169.3h0M1709.9 2171.1h0M1726.4 2170.6h0M1728.7 2177.3h0M1743.9 2165.7h0M1746.5 2170.2h0M1744.8 2175.5h0M1747.4 2180.9h0M1684.0 2172.9h0M1691.2 2174.6h0M1698.3 2174.6h0M1705.5 2176.4h0M1712.6 2177.3h0M1719.8 2176.4h0M1679.6 2180.0h0M1680.5 2185.4h0M1693.9 2180.0h0M1701.0 2182.7h0M1708.1 2183.6h0M1715.3 2183.6h0M1722.4 2182.7h0M1643.9 2184.5h0M1651.0 2185.4h0M1657.7 2184.9h0M1663.9 2185.4h0M1741.2 2187.1h0M1737.6 2190.7h0M1763.5 2181.3h0M1644.8 2191.6h0M1651.9 2192.5h0M1666.2 2194.3h0M1663.5 2198.8h0M1684.0 2192.5h0M1692.1 2189.8h0M1699.2 2190.7h0M1715.3 2190.7h0M1722.4 2189.8h0M1726.9 2190.7h0M1695.6 2197.9h0M1715.3 2197.9h0M1722.4 2197.0h0M1729.6 2197.0h0M1736.7 2197.0h0M1738.5 2200.5h0M1761.7 2195.2h0M1650.1 2198.8h0M1656.4 2201.4h0M1670.6 2200.5h0M1675.1 2202.3h0M1750.1 2202.3h0M1759.9 2203.2h0M1800.4 2034.6h0M1802.4 2048.1h0M1768.2 2058.8h0M1780.1 2096.1h0M1803.9 2107.7h0M1799.0 2113.5h0M1800.8 2118.4h0M1802.2 2126.4h0M1840.6 2113.3h0M1773.6 2113.0h0M1768.7 2116.6h0M1770.0 2133.6h0M1766.9 2140.7h0M1765.1 2147.0h0M1777.6 2147.0h0M1785.6 2145.2h0M1782.5 2147.9h0M1798.1 2142.5h0M1804.8 2141.2h0M1815.7 2141.2h0M1826.7 2142.9h0M1828.5 2147.9h0M1827.2 2155.0h0M1823.1 2163.0h0M1847.7 2150.7h0M1805.3 2164.4h0M1799.0 2168.4h0M1848.6 2164.8h0M1843.7 2169.3h0M1846.4 2174.6h0M1829.4 2167.5h0M1833.0 2170.2h0M1781.6 2173.3h0M1789.2 2178.2h0M1814.2 2179.1h0M1821.4 2180.9h0M1827.6 2179.1h0M1798.6 2182.7h0M1805.3 2183.1h0M1844.6 2183.6h0M1846.4 2186.2h0M1816.0 2185.4h0M1823.1 2188.0h0M1830.3 2187.1h0M1837.4 2188.9h0M1766.0 2182.2h0M1767.8 2188.9h0M1773.1 2191.6h0M1779.4 2190.7h0M1788.3 2192.5h0M1783.9 2196.1h0M1798.6 2197.0h0M1811.1 2195.6h0M1823.1 2194.3h0M1849.9 2197.9h0M1844.6 2195.2h0M1774.9 2205.0h0M1767.8 2205.9h0M1790.1 2206.8h0M1805.3 2205.0h0M1811.5 2206.8h0M1803.5 2210.4h0M1842.8 2204.1h0M1837.4 2208.6h0M1825.4 2213.0h0M1849.0 2210.4h0M1852.6 2212.1h0M1842.8 2211.2h0M1767.8 2212.1h0M1775.8 2212.1h0M1792.8 2212.1h0M1677.8 2224.6h0M1688.5 2223.7h0M1701.9 2228.2h0M1743.0 2226.4h0M1746.1 2234.9h0M1755.9 2238.9h0M1649.7 2229.1h0M1646.5 2234.0h0M1663.9 2230.4h0M1683.1 2230.9h0M1690.3 2231.8h0M1696.5 2238.9h0M1715.3 2235.3h0M1722.4 2230.9h0M1720.6 2224.6h0M1645.2 2243.8h0M1652.8 2241.6h0M1660.8 2246.0h0M1670.6 2238.9h0M1676.0 2246.0h0M1681.4 2239.8h0M1688.5 2242.5h0M1725.1 2243.4h0M1729.6 2248.7h0M1733.1 2255.0h0M1651.9 2254.1h0M1701.0 2252.3h0M1746.1 2251.8h0M1750.1 2259.4h0M1756.4 2264.3h0M1754.6 2268.4h0M1664.8 2262.1h0M1670.6 2266.6h0M1679.6 2252.3h0M1686.7 2257.6h0M1691.2 2264.8h0M1681.4 2260.3h0M1723.3 2262.1h0M1725.1 2268.4h0M1739.4 2266.6h0M1733.1 2271.9h0M1726.9 2274.6h0M1735.8 2273.7h0M1705.3 2268.4h0M1706.8 2275.9h0M1701.0 2280.9h0M1662.6 2271.0h0M1668.9 2273.7h0M1641.6 2274.0h0M1689.4 2272.8h0M1686.7 2278.6h0M1676.0 2277.3h0M1679.6 2283.5h0M1640.3 2286.2h0M1648.3 2288.0h0M1655.5 2287.1h0M1661.7 2283.5h0M1668.0 2284.4h0M1754.6 2282.2h0M1757.2 2287.1h0M1751.0 2288.0h0M1728.7 2287.1h0M1724.2 2292.0h0M1733.1 2290.7h0M1735.8 2296.0h0M1677.8 2288.9h0M1685.8 2292.5h0M1693.0 2291.1h0M1655.5 2294.2h0M1661.7 2293.4h0M1667.1 2295.1h0M1749.2 2300.5h0M1754.6 2296.0h0M1759.9 2298.7h0M1762.6 2293.4h0M1653.7 2299.6h0M1660.8 2300.5h0M1664.4 2302.3h0M1729.6 2305.0h0M1734.9 2305.0h0M1751.0 2305.9h0M1758.1 2306.8h0M1763.5 2309.4h0M1661.7 2309.4h0M1680.5 2308.1h0M1685.4 2307.2h0M1687.6 2312.1h0M1730.5 2312.1h0M1734.9 2314.3h0M1751.0 2313.9h0M1753.7 2319.2h0M1732.2 2321.5h0M1682.9 2322.4h0M1641.4 2330.0h0M1754.6 2329.1h0M1747.9 2331.8h0M1660.4 2338.4h0M1660.2 2346.0h0M1681.8 2338.0h0M1749.2 2339.8h0M1751.9 2345.1h0M1674.5 2349.2h0M1765.3 2335.3h0M1763.9 2349.2h0M1752.8 2353.2h0M1663.5 2357.6h0M1681.5 2359.9h0M1748.8 2369.2h0M1759.0 2371.0h0M1732.7 2374.2h0M1733.6 2377.3h0M1733.6 2385.8h0M1673.3 2379.5h0M1752.8 2381.3h0M1748.3 2385.8h0M1640.3 2391.3h0M1757.0 2398.5h0M1672.2 2399.3h0M1768.7 2215.7h0M1775.8 2216.6h0M1783.0 2217.5h0M1790.1 2215.7h0M1797.2 2216.6h0M1807.1 2217.5h0M1824.9 2215.7h0M1839.2 2215.7h0M1846.4 2216.6h0M1851.7 2215.7h0M1770.5 2224.6h0M1777.6 2222.8h0M1784.8 2223.7h0M1791.9 2222.8h0M1796.4 2224.6h0M1808.9 2223.7h0M1816.0 2224.6h0M1823.1 2225.5h0M1830.3 2222.8h0M1837.4 2223.7h0M1844.6 2222.8h0M1849.0 2228.2h0M1781.2 2230.9h0M1788.3 2231.8h0M1793.7 2233.5h0M1808.0 2237.1h0M1818.7 2231.8h0M1824.9 2232.6h0M1835.6 2231.8h0M1842.8 2230.9h0M1850.8 2236.2h0M1777.6 2239.8h0M1784.8 2238.9h0M1791.9 2239.8h0M1799.9 2241.6h0M1807.1 2242.5h0M1814.2 2240.7h0M1819.6 2238.9h0M1835.6 2238.9h0M1842.8 2239.8h0M1849.0 2245.1h0M1768.7 2246.9h0M1775.8 2247.8h0M1783.0 2246.9h0M1790.1 2247.8h0M1797.2 2248.7h0M1804.4 2248.7h0M1811.5 2247.8h0M1816.9 2251.4h0M1842.8 2246.9h0M1769.6 2255.0h0M1776.7 2255.0h0M1783.9 2254.1h0M1791.0 2255.9h0M1798.1 2255.9h0M1805.3 2255.0h0M1812.4 2255.9h0M1830.3 2255.0h0M1837.4 2254.1h0M1844.6 2253.2h0M1851.3 2255.0h0M1767.8 2262.1h0M1791.9 2263.0h0M1799.0 2263.0h0M1806.2 2262.1h0M1813.3 2263.0h0M1820.5 2266.6h0M1833.9 2264.8h0M1841.0 2262.1h0M1845.5 2264.8h0M1775.8 2268.4h0M1770.5 2275.5h0M1788.3 2271.0h0M1795.5 2270.1h0M1802.6 2271.0h0M1809.8 2270.1h0M1816.9 2271.0h0M1821.4 2274.6h0M1841.9 2273.7h0M1848.6 2275.5h0M1783.9 2280.9h0M1796.4 2280.0h0M1800.8 2281.8h0M1808.0 2279.1h0M1815.1 2279.1h0M1820.5 2285.3h0M1845.5 2281.8h0M1774.0 2286.2h0M1774.9 2295.1h0M1832.1 2291.6h0M1839.2 2287.1h0M1850.8 2290.7h0M1765.1 2296.0h0M1787.0 2297.4h0M1794.6 2300.1h0M1791.0 2305.0h0M1782.1 2306.8h0M1839.7 2300.3h0M1764.2 2309.4h0M1833.9 2311.2h0M1837.9 2316.1h0M1813.3 2314.8h0M1822.2 2315.7h0M1827.2 2323.7h0M1793.7 2319.7h0M1793.2 2324.6h0M1768.7 2335.3h0M1772.7 2336.2h0M1768.7 2338.0h0M1817.1 2336.7h0M1834.6 2337.8h0M1792.6 2341.8h0M1806.2 2350.5h0M1765.6 2348.7h0M1773.1 2357.5h0M1816.3 2362.3h0M1814.5 2375.3h0M1839.2 2388.7h0M1672.8 2452.3h0M1647.0 2207.5h0M1645.6 2213.3h0M1657.2 2208.4h0M1664.4 2209.3h0M1671.5 2207.5h0M1676.0 2212.9h0M1677.8 2220.0h0M1678.7 2225.4h0M1683.1 2209.3h0M1690.3 2206.6h0M1697.4 2204.8h0M1704.6 2203.9h0M1711.7 2205.7h0M1688.5 2223.6h0M1695.6 2222.7h0M1702.8 2220.9h0M1706.4 2216.4h0M1709.9 2222.7h0M1718.9 2217.3h0M1724.2 2212.0h0M1726.9 2220.0h0M1731.4 2223.6h0M1719.8 2225.4h0M1724.2 2203.9h0M1731.4 2203.9h0M1738.5 2204.8h0M1741.2 2211.1h0M1749.2 2209.3h0M1750.1 2203.0h0M1743.0 2225.8h0M1761.7 2207.5h0M1760.8 2216.4h0M1762.6 2223.6h0M1763.5 2201.2h0" stroke="#00f" stroke-width="12.5" stroke-linecap="round" fill="none"/>
<g class="b" font-size="54.3" text-anchor="middle"><text transform="translate(1054.3,99.2) scale(0.979,1.02)">J989 - Rapid 5 Minute Sample Rate Solutions</text><text transform="translate(1055.7,162.7) scale(0.979,1.02)" xml:space="preserve" style="white-space:pre">UTC Days Shown:  25NOV22 25DEC05 25DEC06</text></g>
<path d="M231.4 216.0V200.8M231.4 860.0V875.0M240.3 216.0V209.8M240.3 860.0V866.0M249.1 216.0V209.8M249.1 860.0V866.0M258.0 216.0V200.8M258.0 860.0V875.0M266.8 216.0V209.8M266.8 860.0V866.0M275.7 216.0V209.8M275.7 860.0V866.0M284.5 216.0V200.8M284.5 860.0V875.0M293.4 216.0V209.8M293.4 860.0V866.0M302.3 216.0V209.8M302.3 860.0V866.0M311.1 216.0V200.8M311.1 860.0V875.0M320.0 216.0V209.8M320.0 860.0V866.0M328.8 216.0V209.8M328.8 860.0V866.0M337.7 216.0V200.8M337.7 860.0V875.0M346.5 216.0V209.8M346.5 860.0V866.0M355.4 216.0V209.8M355.4 860.0V866.0M364.2 216.0V200.8M364.2 860.0V875.0M373.1 216.0V209.8M373.1 860.0V866.0M382.0 216.0V209.8M382.0 860.0V866.0M390.8 216.0V200.8M390.8 860.0V875.0M399.7 216.0V209.8M399.7 860.0V866.0M408.5 216.0V209.8M408.5 860.0V866.0M417.4 216.0V200.8M417.4 860.0V875.0M426.2 216.0V209.8M426.2 860.0V866.0M435.1 216.0V209.8M435.1 860.0V866.0M444.0 216.0V200.8M444.0 860.0V875.0M452.8 216.0V209.8M452.8 860.0V866.0M461.7 216.0V209.8M461.7 860.0V866.0M470.5 216.0V200.8M470.5 860.0V875.0M479.4 216.0V209.8M479.4 860.0V866.0M488.2 216.0V209.8M488.2 860.0V866.0M497.1 216.0V200.8M497.1 860.0V875.0M505.9 216.0V209.8M505.9 860.0V866.0M514.8 216.0V209.8M514.8 860.0V866.0M523.7 216.0V200.8M523.7 860.0V875.0M532.5 216.0V209.8M532.5 860.0V866.0M541.4 216.0V209.8M541.4 860.0V866.0M550.2 216.0V200.8M550.2 860.0V875.0M559.1 216.0V209.8M559.1 860.0V866.0M567.9 216.0V209.8M567.9 860.0V866.0M576.8 216.0V200.8M576.8 860.0V875.0M585.7 216.0V209.8M585.7 860.0V866.0M594.5 216.0V209.8M594.5 860.0V866.0M603.4 216.0V200.8M603.4 860.0V875.0M612.2 216.0V209.8M612.2 860.0V866.0M621.1 216.0V209.8M621.1 860.0V866.0M629.9 216.0V200.8M629.9 860.0V875.0M638.8 216.0V209.8M638.8 860.0V866.0M647.7 216.0V209.8M647.7 860.0V866.0M656.5 216.0V200.8M656.5 860.0V875.0M665.4 216.0V209.8M665.4 860.0V866.0M674.2 216.0V209.8M674.2 860.0V866.0M683.1 216.0V200.8M683.1 860.0V875.0M691.9 216.0V209.8M691.9 860.0V866.0M700.8 216.0V209.8M700.8 860.0V866.0M709.6 216.0V200.8M709.6 860.0V875.0M718.5 216.0V209.8M718.5 860.0V866.0M727.4 216.0V209.8M727.4 860.0V866.0M736.2 216.0V200.8M736.2 860.0V875.0M745.1 216.0V209.8M745.1 860.0V866.0M753.9 216.0V209.8M753.9 860.0V866.0M762.8 216.0V200.8M762.8 860.0V875.0M771.6 216.0V209.8M771.6 860.0V866.0M780.5 216.0V209.8M780.5 860.0V866.0M789.4 216.0V200.8M789.4 860.0V875.0M798.2 216.0V209.8M798.2 860.0V866.0M807.1 216.0V209.8M807.1 860.0V866.0M815.9 216.0V200.8M815.9 860.0V875.0M824.8 216.0V209.8M824.8 860.0V866.0M833.6 216.0V209.8M833.6 860.0V866.0M842.5 216.0V200.8M842.5 860.0V875.0M851.3 216.0V209.8M851.3 860.0V866.0M860.2 216.0V209.8M860.2 860.0V866.0M869.1 216.0V200.8M869.1 860.0V875.0M877.9 216.0V209.8M877.9 860.0V866.0M886.8 216.0V209.8M886.8 860.0V866.0M895.6 216.0V200.8M895.6 860.0V875.0M904.5 216.0V209.8M904.5 860.0V866.0M913.3 216.0V209.8M913.3 860.0V866.0M922.2 216.0V200.8M922.2 860.0V875.0M931.1 216.0V209.8M931.1 860.0V866.0M939.9 216.0V209.8M939.9 860.0V866.0M948.8 216.0V200.8M948.8 860.0V875.0M957.6 216.0V209.8M957.6 860.0V866.0M966.5 216.0V209.8M966.5 860.0V866.0M975.3 216.0V200.8M975.3 860.0V875.0M984.2 216.0V209.8M984.2 860.0V866.0M993.1 216.0V209.8M993.1 860.0V866.0M1001.9 216.0V200.8M1001.9 860.0V875.0M1010.8 216.0V209.8M1010.8 860.0V866.0M1019.6 216.0V209.8M1019.6 860.0V866.0M1028.5 216.0V200.8M1028.5 860.0V875.0M1037.3 216.0V209.8M1037.3 860.0V866.0M1046.2 216.0V209.8M1046.2 860.0V866.0M1055.0 216.0V200.8M1055.0 860.0V875.0M1063.9 216.0V209.8M1063.9 860.0V866.0M1072.8 216.0V209.8M1072.8 860.0V866.0M1081.6 216.0V200.8M1081.6 860.0V875.0M1090.5 216.0V209.8M1090.5 860.0V866.0M1099.3 216.0V209.8M1099.3 860.0V866.0M1108.2 216.0V200.8M1108.2 860.0V875.0M1117.0 216.0V209.8M1117.0 860.0V866.0M1125.9 216.0V209.8M1125.9 860.0V866.0M1134.8 216.0V200.8M1134.8 860.0V875.0M1143.6 216.0V209.8M1143.6 860.0V866.0M1152.5 216.0V209.8M1152.5 860.0V866.0M1161.3 216.0V200.8M1161.3 860.0V875.0M1170.2 216.0V209.8M1170.2 860.0V866.0M1179.0 216.0V209.8M1179.0 860.0V866.0M1187.9 216.0V200.8M1187.9 860.0V875.0M1196.7 216.0V209.8M1196.7 860.0V866.0M1205.6 216.0V209.8M1205.6 860.0V866.0M1214.5 216.0V200.8M1214.5 860.0V875.0M1223.3 216.0V209.8M1223.3 860.0V866.0M1232.2 216.0V209.8M1232.2 860.0V866.0M1241.0 216.0V200.8M1241.0 860.0V875.0M1249.9 216.0V209.8M1249.9 860.0V866.0M1258.7 216.0V209.8M1258.7 860.0V866.0M1267.6 216.0V200.8M1267.6 860.0V875.0M1276.5 216.0V209.8M1276.5 860.0V866.0M1285.3 216.0V209.8M1285.3 860.0V866.0M1294.2 216.0V200.8M1294.2 860.0V875.0M1303.0 216.0V209.8M1303.0 860.0V866.0M1311.9 216.0V209.8M1311.9 860.0V866.0M1320.7 216.0V200.8M1320.7 860.0V875.0M1329.6 216.0V209.8M1329.6 860.0V866.0M1338.5 216.0V209.8M1338.5 860.0V866.0M1347.3 216.0V200.8M1347.3 860.0V875.0M1356.2 216.0V209.8M1356.2 860.0V866.0M1365.0 216.0V209.8M1365.0 860.0V866.0M1373.9 216.0V200.8M1373.9 860.0V875.0M1382.7 216.0V209.8M1382.7 860.0V866.0M1391.6 216.0V209.8M1391.6 860.0V866.0M1400.4 216.0V200.8M1400.4 860.0V875.0M1409.3 216.0V209.8M1409.3 860.0V866.0M1418.2 216.0V209.8M1418.2 860.0V866.0M1427.0 216.0V200.8M1427.0 860.0V875.0M1435.9 216.0V209.8M1435.9 860.0V866.0M1444.7 216.0V209.8M1444.7 860.0V866.0M1453.6 216.0V200.8M1453.6 860.0V875.0M1462.4 216.0V209.8M1462.4 860.0V866.0M1471.3 216.0V209.8M1471.3 860.0V866.0M1480.2 216.0V200.8M1480.2 860.0V875.0M1489.0 216.0V209.8M1489.0 860.0V866.0M1497.9 216.0V209.8M1497.9 860.0V866.0M1506.7 216.0V200.8M1506.7 860.0V875.0M1515.6 216.0V209.8M1515.6 860.0V866.0M1524.4 216.0V209.8M1524.4 860.0V866.0M1533.3 216.0V200.8M1533.3 860.0V875.0M1542.1 216.0V209.8M1542.1 860.0V866.0M1551.0 216.0V209.8M1551.0 860.0V866.0M1559.9 216.0V200.8M1559.9 860.0V875.0M1568.7 216.0V209.8M1568.7 860.0V866.0M1577.6 216.0V209.8M1577.6 860.0V866.0M1586.4 216.0V200.8M1586.4 860.0V875.0M1595.3 216.0V209.8M1595.3 860.0V866.0M1604.1 216.0V209.8M1604.1 860.0V866.0M1613.0 216.0V200.8M1613.0 860.0V875.0M1621.9 216.0V209.8M1621.9 860.0V866.0M1630.7 216.0V209.8M1630.7 860.0V866.0M1639.6 216.0V200.8M1639.6 860.0V875.0M1648.4 216.0V209.8M1648.4 860.0V866.0M1657.3 216.0V209.8M1657.3 860.0V866.0M1666.1 216.0V200.8M1666.1 860.0V875.0M1675.0 216.0V209.8M1675.0 860.0V866.0M1683.8 216.0V209.8M1683.8 860.0V866.0M1692.7 216.0V200.8M1692.7 860.0V875.0M1701.6 216.0V209.8M1701.6 860.0V866.0M1710.4 216.0V209.8M1710.4 860.0V866.0M1719.3 216.0V200.8M1719.3 860.0V875.0M1728.1 216.0V209.8M1728.1 860.0V866.0M1737.0 216.0V209.8M1737.0 860.0V866.0M1745.8 216.0V200.8M1745.8 860.0V875.0M1754.7 216.0V209.8M1754.7 860.0V866.0M1763.6 216.0V209.8M1763.6 860.0V866.0M1772.4 216.0V200.8M1772.4 860.0V875.0M1781.3 216.0V209.8M1781.3 860.0V866.0M1790.1 216.0V209.8M1790.1 860.0V866.0M1799.0 216.0V200.8M1799.0 860.0V875.0M1807.8 216.0V209.8M1807.8 860.0V866.0M1816.7 216.0V209.8M1816.7 860.0V866.0M1825.6 216.0V200.8M1825.6 860.0V875.0M1834.4 216.0V209.8M1834.4 860.0V866.0M1843.3 216.0V209.8M1843.3 860.0V866.0M1852.1 216.0V200.8M1852.1 860.0V875.0M1861.0 216.0V209.8M1861.0 860.0V866.0M1869.8 216.0V209.8M1869.8 860.0V866.0M1878.7 216.0V200.8M1878.7 860.0V875.0M222.9 251.3H208.3M1886.7 251.3H1901.5M222.9 378.7H208.3M1886.7 378.7H1901.5M222.9 506.2H208.3M1886.7 506.2H1901.5M222.9 633.6H208.3M1886.7 633.6H1901.5M222.9 761.0H208.3M1886.7 761.0H1901.5" stroke="#000" stroke-width="2.6" fill="none" stroke-linecap="round"/>
<rect x="225.9" y="219.0" width="1657.8" height="638.0" fill="none" stroke="#000" stroke-width="5.8"/>
<g class="b" font-size="42" text-anchor="end">
<text transform="translate(190,267.3) scale(1,1.085)">24</text>
<text transform="translate(190,394.7) scale(1,1.085)">16</text>
<text transform="translate(190,522.2) scale(1,1.085)">8</text>
<text transform="translate(190,649.6) scale(1,1.085)">0</text>
<text transform="translate(190,777.0) scale(1,1.085)">−8</text>
</g>
<g class="b" font-size="42" text-anchor="middle" transform="translate(0,924.2) scale(1,1.085)">
<text x="231.4" y="0">−6</text>
<text x="258.0" y="0">0</text>
<text x="284.5" y="0">6</text>
<text x="311.1" y="0"><tspan class="o" dx="1.5" dy="-2.5">1</tspan><tspan dy="2.5">2</tspan></text>
<text x="337.7" y="0"><tspan class="o" dx="1.5" dy="-2.5">1</tspan><tspan dy="2.5">8</tspan></text>
<text x="364.2" y="0">24</text>
<text x="390.8" y="0">30</text>
<text x="417.4" y="0">36</text>
<text x="444.0" y="0">42</text>
<text x="470.5" y="0">48</text>
<text x="497.1" y="0">54</text>
<text x="523.7" y="0">60</text>
<text x="550.2" y="0">66</text>
<text x="576.8" y="0">72</text>
<text x="603.4" y="0">78</text>
<text x="629.9" y="0">84</text>
<text x="656.5" y="0">90</text>
<text x="683.1" y="0">96</text>
<text x="709.6" y="0"><tspan class="o" dx="1.5" dy="-2.5">1</tspan><tspan dy="2.5">0</tspan>2</text>
<text x="736.2" y="0"><tspan class="o" dx="1.5" dy="-2.5">1</tspan><tspan dy="2.5">0</tspan>8</text>
<text x="762.8" y="0"><tspan class="o" dx="1.5" dy="-2.5">1</tspan><tspan class="o" dx="1.5">1</tspan><tspan dy="2.5">4</tspan></text>
<text x="789.4" y="0"><tspan class="o" dx="1.5" dy="-2.5">1</tspan><tspan dy="2.5">2</tspan>0</text>
<text x="815.9" y="0"><tspan class="o" dx="1.5" dy="-2.5">1</tspan><tspan dy="2.5">2</tspan>6</text>
<text x="842.5" y="0"><tspan class="o" dx="1.5" dy="-2.5">1</tspan><tspan dy="2.5">3</tspan>2</text>
<text x="869.1" y="0"><tspan class="o" dx="1.5" dy="-2.5">1</tspan><tspan dy="2.5">3</tspan>8</text>
<text x="895.6" y="0"><tspan class="o" dx="1.5" dy="-2.5">1</tspan><tspan dy="2.5">4</tspan>4</text>
<text x="922.2" y="0"><tspan class="o" dx="1.5" dy="-2.5">1</tspan><tspan dy="2.5">5</tspan>0</text>
<text x="948.8" y="0"><tspan class="o" dx="1.5" dy="-2.5">1</tspan><tspan dy="2.5">5</tspan>6</text>
<text x="975.3" y="0"><tspan class="o" dx="1.5" dy="-2.5">1</tspan><tspan dy="2.5">6</tspan>2</text>
<text x="1001.9" y="0"><tspan class="o" dx="1.5" dy="-2.5">1</tspan><tspan dy="2.5">6</tspan>8</text>
<text x="1028.5" y="0"><tspan class="o" dx="1.5" dy="-2.5">1</tspan><tspan dy="2.5">7</tspan>4</text>
<text x="1055.0" y="0"><tspan class="o" dx="1.5" dy="-2.5">1</tspan><tspan dy="2.5">8</tspan>0</text>
<text x="1081.6" y="0"><tspan class="o" dx="1.5" dy="-2.5">1</tspan><tspan dy="2.5">8</tspan>6</text>
<text x="1108.2" y="0"><tspan class="o" dx="1.5" dy="-2.5">1</tspan><tspan dy="2.5">9</tspan>2</text>
<text x="1134.8" y="0"><tspan class="o" dx="1.5" dy="-2.5">1</tspan><tspan dy="2.5">9</tspan>8</text>
<text x="1161.3" y="0">204</text>
<text x="1187.9" y="0">2<tspan class="o" dx="1.5" dy="-2.5">1</tspan><tspan dy="2.5">0</tspan></text>
<text x="1214.5" y="0">2<tspan class="o" dx="1.5" dy="-2.5">1</tspan><tspan dy="2.5">6</tspan></text>
<text x="1241.0" y="0">222</text>
<text x="1267.6" y="0">228</text>
<text x="1294.2" y="0">234</text>
<text x="1320.7" y="0">240</text>
<text x="1347.3" y="0">246</text>
<text x="1373.9" y="0">252</text>
<text x="1400.4" y="0">258</text>
<text x="1427.0" y="0">264</text>
<text x="1453.6" y="0">270</text>
<text x="1480.2" y="0">276</text>
<text x="1506.7" y="0">282</text>
<text x="1533.3" y="0">288</text>
<text x="1559.9" y="0">294</text>
<text x="1586.4" y="0">300</text>
<text x="1613.0" y="0">306</text>
<text x="1639.6" y="0">3<tspan class="o" dx="1.5" dy="-2.5">1</tspan><tspan dy="2.5">2</tspan></text>
<text x="1666.1" y="0">3<tspan class="o" dx="1.5" dy="-2.5">1</tspan><tspan dy="2.5">8</tspan></text>
<text x="1692.7" y="0">324</text>
<text x="1719.3" y="0">330</text>
<text x="1745.8" y="0">336</text>
<text x="1772.4" y="0">342</text>
<text x="1799.0" y="0">348</text>
<text x="1825.6" y="0">354</text>
<text x="1852.1" y="0">360</text>
<text x="1878.7" y="0">366</text>
</g>
<text font-size="42.6" text-anchor="middle" transform="translate(114.0,538.0) rotate(-90) scale(1,1.035)">East (mm)</text>
<path d="M231.4 1032.0V1016.8M231.4 1675.8V1690.8M240.3 1032.0V1025.8M240.3 1675.8V1681.8M249.1 1032.0V1025.8M249.1 1675.8V1681.8M258.0 1032.0V1016.8M258.0 1675.8V1690.8M266.8 1032.0V1025.8M266.8 1675.8V1681.8M275.7 1032.0V1025.8M275.7 1675.8V1681.8M284.5 1032.0V1016.8M284.5 1675.8V1690.8M293.4 1032.0V1025.8M293.4 1675.8V1681.8M302.3 1032.0V1025.8M302.3 1675.8V1681.8M311.1 1032.0V1016.8M311.1 1675.8V1690.8M320.0 1032.0V1025.8M320.0 1675.8V1681.8M328.8 1032.0V1025.8M328.8 1675.8V1681.8M337.7 1032.0V1016.8M337.7 1675.8V1690.8M346.5 1032.0V1025.8M346.5 1675.8V1681.8M355.4 1032.0V1025.8M355.4 1675.8V1681.8M364.2 1032.0V1016.8M364.2 1675.8V1690.8M373.1 1032.0V1025.8M373.1 1675.8V1681.8M382.0 1032.0V1025.8M382.0 1675.8V1681.8M390.8 1032.0V1016.8M390.8 1675.8V1690.8M399.7 1032.0V1025.8M399.7 1675.8V1681.8M408.5 1032.0V1025.8M408.5 1675.8V1681.8M417.4 1032.0V1016.8M417.4 1675.8V1690.8M426.2 1032.0V1025.8M426.2 1675.8V1681.8M435.1 1032.0V1025.8M435.1 1675.8V1681.8M444.0 1032.0V1016.8M444.0 1675.8V1690.8M452.8 1032.0V1025.8M452.8 1675.8V1681.8M461.7 1032.0V1025.8M461.7 1675.8V1681.8M470.5 1032.0V1016.8M470.5 1675.8V1690.8M479.4 1032.0V1025.8M479.4 1675.8V1681.8M488.2 1032.0V1025.8M488.2 1675.8V1681.8M497.1 1032.0V1016.8M497.1 1675.8V1690.8M505.9 1032.0V1025.8M505.9 1675.8V1681.8M514.8 1032.0V1025.8M514.8 1675.8V1681.8M523.7 1032.0V1016.8M523.7 1675.8V1690.8M532.5 1032.0V1025.8M532.5 1675.8V1681.8M541.4 1032.0V1025.8M541.4 1675.8V1681.8M550.2 1032.0V1016.8M550.2 1675.8V1690.8M559.1 1032.0V1025.8M559.1 1675.8V1681.8M567.9 1032.0V1025.8M567.9 1675.8V1681.8M576.8 1032.0V1016.8M576.8 1675.8V1690.8M585.7 1032.0V1025.8M585.7 1675.8V1681.8M594.5 1032.0V1025.8M594.5 1675.8V1681.8M603.4 1032.0V1016.8M603.4 1675.8V1690.8M612.2 1032.0V1025.8M612.2 1675.8V1681.8M621.1 1032.0V1025.8M621.1 1675.8V1681.8M629.9 1032.0V1016.8M629.9 1675.8V1690.8M638.8 1032.0V1025.8M638.8 1675.8V1681.8M647.7 1032.0V1025.8M647.7 1675.8V1681.8M656.5 1032.0V1016.8M656.5 1675.8V1690.8M665.4 1032.0V1025.8M665.4 1675.8V1681.8M674.2 1032.0V1025.8M674.2 1675.8V1681.8M683.1 1032.0V1016.8M683.1 1675.8V1690.8M691.9 1032.0V1025.8M691.9 1675.8V1681.8M700.8 1032.0V1025.8M700.8 1675.8V1681.8M709.6 1032.0V1016.8M709.6 1675.8V1690.8M718.5 1032.0V1025.8M718.5 1675.8V1681.8M727.4 1032.0V1025.8M727.4 1675.8V1681.8M736.2 1032.0V1016.8M736.2 1675.8V1690.8M745.1 1032.0V1025.8M745.1 1675.8V1681.8M753.9 1032.0V1025.8M753.9 1675.8V1681.8M762.8 1032.0V1016.8M762.8 1675.8V1690.8M771.6 1032.0V1025.8M771.6 1675.8V1681.8M780.5 1032.0V1025.8M780.5 1675.8V1681.8M789.4 1032.0V1016.8M789.4 1675.8V1690.8M798.2 1032.0V1025.8M798.2 1675.8V1681.8M807.1 1032.0V1025.8M807.1 1675.8V1681.8M815.9 1032.0V1016.8M815.9 1675.8V1690.8M824.8 1032.0V1025.8M824.8 1675.8V1681.8M833.6 1032.0V1025.8M833.6 1675.8V1681.8M842.5 1032.0V1016.8M842.5 1675.8V1690.8M851.3 1032.0V1025.8M851.3 1675.8V1681.8M860.2 1032.0V1025.8M860.2 1675.8V1681.8M869.1 1032.0V1016.8M869.1 1675.8V1690.8M877.9 1032.0V1025.8M877.9 1675.8V1681.8M886.8 1032.0V1025.8M886.8 1675.8V1681.8M895.6 1032.0V1016.8M895.6 1675.8V1690.8M904.5 1032.0V1025.8M904.5 1675.8V1681.8M913.3 1032.0V1025.8M913.3 1675.8V1681.8M922.2 1032.0V1016.8M922.2 1675.8V1690.8M931.1 1032.0V1025.8M931.1 1675.8V1681.8M939.9 1032.0V1025.8M939.9 1675.8V1681.8M948.8 1032.0V1016.8M948.8 1675.8V1690.8M957.6 1032.0V1025.8M957.6 1675.8V1681.8M966.5 1032.0V1025.8M966.5 1675.8V1681.8M975.3 1032.0V1016.8M975.3 1675.8V1690.8M984.2 1032.0V1025.8M984.2 1675.8V1681.8M993.1 1032.0V1025.8M993.1 1675.8V1681.8M1001.9 1032.0V1016.8M1001.9 1675.8V1690.8M1010.8 1032.0V1025.8M1010.8 1675.8V1681.8M1019.6 1032.0V1025.8M1019.6 1675.8V1681.8M1028.5 1032.0V1016.8M1028.5 1675.8V1690.8M1037.3 1032.0V1025.8M1037.3 1675.8V1681.8M1046.2 1032.0V1025.8M1046.2 1675.8V1681.8M1055.0 1032.0V1016.8M1055.0 1675.8V1690.8M1063.9 1032.0V1025.8M1063.9 1675.8V1681.8M1072.8 1032.0V1025.8M1072.8 1675.8V1681.8M1081.6 1032.0V1016.8M1081.6 1675.8V1690.8M1090.5 1032.0V1025.8M1090.5 1675.8V1681.8M1099.3 1032.0V1025.8M1099.3 1675.8V1681.8M1108.2 1032.0V1016.8M1108.2 1675.8V1690.8M1117.0 1032.0V1025.8M1117.0 1675.8V1681.8M1125.9 1032.0V1025.8M1125.9 1675.8V1681.8M1134.8 1032.0V1016.8M1134.8 1675.8V1690.8M1143.6 1032.0V1025.8M1143.6 1675.8V1681.8M1152.5 1032.0V1025.8M1152.5 1675.8V1681.8M1161.3 1032.0V1016.8M1161.3 1675.8V1690.8M1170.2 1032.0V1025.8M1170.2 1675.8V1681.8M1179.0 1032.0V1025.8M1179.0 1675.8V1681.8M1187.9 1032.0V1016.8M1187.9 1675.8V1690.8M1196.7 1032.0V1025.8M1196.7 1675.8V1681.8M1205.6 1032.0V1025.8M1205.6 1675.8V1681.8M1214.5 1032.0V1016.8M1214.5 1675.8V1690.8M1223.3 1032.0V1025.8M1223.3 1675.8V1681.8M1232.2 1032.0V1025.8M1232.2 1675.8V1681.8M1241.0 1032.0V1016.8M1241.0 1675.8V1690.8M1249.9 1032.0V1025.8M1249.9 1675.8V1681.8M1258.7 1032.0V1025.8M1258.7 1675.8V1681.8M1267.6 1032.0V1016.8M1267.6 1675.8V1690.8M1276.5 1032.0V1025.8M1276.5 1675.8V1681.8M1285.3 1032.0V1025.8M1285.3 1675.8V1681.8M1294.2 1032.0V1016.8M1294.2 1675.8V1690.8M1303.0 1032.0V1025.8M1303.0 1675.8V1681.8M1311.9 1032.0V1025.8M1311.9 1675.8V1681.8M1320.7 1032.0V1016.8M1320.7 1675.8V1690.8M1329.6 1032.0V1025.8M1329.6 1675.8V1681.8M1338.5 1032.0V1025.8M1338.5 1675.8V1681.8M1347.3 1032.0V1016.8M1347.3 1675.8V1690.8M1356.2 1032.0V1025.8M1356.2 1675.8V1681.8M1365.0 1032.0V1025.8M1365.0 1675.8V1681.8M1373.9 1032.0V1016.8M1373.9 1675.8V1690.8M1382.7 1032.0V1025.8M1382.7 1675.8V1681.8M1391.6 1032.0V1025.8M1391.6 1675.8V1681.8M1400.4 1032.0V1016.8M1400.4 1675.8V1690.8M1409.3 1032.0V1025.8M1409.3 1675.8V1681.8M1418.2 1032.0V1025.8M1418.2 1675.8V1681.8M1427.0 1032.0V1016.8M1427.0 1675.8V1690.8M1435.9 1032.0V1025.8M1435.9 1675.8V1681.8M1444.7 1032.0V1025.8M1444.7 1675.8V1681.8M1453.6 1032.0V1016.8M1453.6 1675.8V1690.8M1462.4 1032.0V1025.8M1462.4 1675.8V1681.8M1471.3 1032.0V1025.8M1471.3 1675.8V1681.8M1480.2 1032.0V1016.8M1480.2 1675.8V1690.8M1489.0 1032.0V1025.8M1489.0 1675.8V1681.8M1497.9 1032.0V1025.8M1497.9 1675.8V1681.8M1506.7 1032.0V1016.8M1506.7 1675.8V1690.8M1515.6 1032.0V1025.8M1515.6 1675.8V1681.8M1524.4 1032.0V1025.8M1524.4 1675.8V1681.8M1533.3 1032.0V1016.8M1533.3 1675.8V1690.8M1542.1 1032.0V1025.8M1542.1 1675.8V1681.8M1551.0 1032.0V1025.8M1551.0 1675.8V1681.8M1559.9 1032.0V1016.8M1559.9 1675.8V1690.8M1568.7 1032.0V1025.8M1568.7 1675.8V1681.8M1577.6 1032.0V1025.8M1577.6 1675.8V1681.8M1586.4 1032.0V1016.8M1586.4 1675.8V1690.8M1595.3 1032.0V1025.8M1595.3 1675.8V1681.8M1604.1 1032.0V1025.8M1604.1 1675.8V1681.8M1613.0 1032.0V1016.8M1613.0 1675.8V1690.8M1621.9 1032.0V1025.8M1621.9 1675.8V1681.8M1630.7 1032.0V1025.8M1630.7 1675.8V1681.8M1639.6 1032.0V1016.8M1639.6 1675.8V1690.8M1648.4 1032.0V1025.8M1648.4 1675.8V1681.8M1657.3 1032.0V1025.8M1657.3 1675.8V1681.8M1666.1 1032.0V1016.8M1666.1 1675.8V1690.8M1675.0 1032.0V1025.8M1675.0 1675.8V1681.8M1683.8 1032.0V1025.8M1683.8 1675.8V1681.8M1692.7 1032.0V1016.8M1692.7 1675.8V1690.8M1701.6 1032.0V1025.8M1701.6 1675.8V1681.8M1710.4 1032.0V1025.8M1710.4 1675.8V1681.8M1719.3 1032.0V1016.8M1719.3 1675.8V1690.8M1728.1 1032.0V1025.8M1728.1 1675.8V1681.8M1737.0 1032.0V1025.8M1737.0 1675.8V1681.8M1745.8 1032.0V1016.8M1745.8 1675.8V1690.8M1754.7 1032.0V1025.8M1754.7 1675.8V1681.8M1763.6 1032.0V1025.8M1763.6 1675.8V1681.8M1772.4 1032.0V1016.8M1772.4 1675.8V1690.8M1781.3 1032.0V1025.8M1781.3 1675.8V1681.8M1790.1 1032.0V1025.8M1790.1 1675.8V1681.8M1799.0 1032.0V1016.8M1799.0 1675.8V1690.8M1807.8 1032.0V1025.8M1807.8 1675.8V1681.8M1816.7 1032.0V1025.8M1816.7 1675.8V1681.8M1825.6 1032.0V1016.8M1825.6 1675.8V1690.8M1834.4 1032.0V1025.8M1834.4 1675.8V1681.8M1843.3 1032.0V1025.8M1843.3 1675.8V1681.8M1852.1 1032.0V1016.8M1852.1 1675.8V1690.8M1861.0 1032.0V1025.8M1861.0 1675.8V1681.8M1869.8 1032.0V1025.8M1869.8 1675.8V1681.8M1878.7 1032.0V1016.8M1878.7 1675.8V1690.8M222.9 1137.5H208.3M1886.7 1137.5H1901.5M222.9 1257.2H208.3M1886.7 1257.2H1901.5M222.9 1377.0H208.3M1886.7 1377.0H1901.5M222.9 1496.8H208.3M1886.7 1496.8H1901.5M222.9 1616.5H208.3M1886.7 1616.5H1901.5" stroke="#000" stroke-width="2.6" fill="none" stroke-linecap="round"/>
<rect x="225.9" y="1035.0" width="1657.8" height="637.8" fill="none" stroke="#000" stroke-width="5.8"/>
<g class="b" font-size="42" text-anchor="end">
<text transform="translate(190,1153.5) scale(1,1.085)">30</text>
<text transform="translate(190,1273.2) scale(1,1.085)">20</text>
<text transform="translate(190,1393.0) scale(1,1.085)">10</text>
<text transform="translate(190,1512.8) scale(1,1.085)">0</text>
<text transform="translate(190,1632.5) scale(1,1.085)">−10</text>
</g>
<g class="b" font-size="42" text-anchor="middle" transform="translate(0,1740.0) scale(1,1.085)">
<text x="231.4" y="0">−6</text>
<text x="258.0" y="0">0</text>
<text x="284.5" y="0">6</text>
<text x="311.1" y="0"><tspan class="o" dx="1.5" dy="-2.5">1</tspan><tspan dy="2.5">2</tspan></text>
<text x="337.7" y="0"><tspan class="o" dx="1.5" dy="-2.5">1</tspan><tspan dy="2.5">8</tspan></text>
<text x="364.2" y="0">24</text>
<text x="390.8" y="0">30</text>
<text x="417.4" y="0">36</text>
<text x="444.0" y="0">42</text>
<text x="470.5" y="0">48</text>
<text x="497.1" y="0">54</text>
<text x="523.7" y="0">60</text>
<text x="550.2" y="0">66</text>
<text x="576.8" y="0">72</text>
<text x="603.4" y="0">78</text>
<text x="629.9" y="0">84</text>
<text x="656.5" y="0">90</text>
<text x="683.1" y="0">96</text>
<text x="709.6" y="0"><tspan class="o" dx="1.5" dy="-2.5">1</tspan><tspan dy="2.5">0</tspan>2</text>
<text x="736.2" y="0"><tspan class="o" dx="1.5" dy="-2.5">1</tspan><tspan dy="2.5">0</tspan>8</text>
<text x="762.8" y="0"><tspan class="o" dx="1.5" dy="-2.5">1</tspan><tspan class="o" dx="1.5">1</tspan><tspan dy="2.5">4</tspan></text>
<text x="789.4" y="0"><tspan class="o" dx="1.5" dy="-2.5">1</tspan><tspan dy="2.5">2</tspan>0</text>
<text x="815.9" y="0"><tspan class="o" dx="1.5" dy="-2.5">1</tspan><tspan dy="2.5">2</tspan>6</text>
<text x="842.5" y="0"><tspan class="o" dx="1.5" dy="-2.5">1</tspan><tspan dy="2.5">3</tspan>2</text>
<text x="869.1" y="0"><tspan class="o" dx="1.5" dy="-2.5">1</tspan><tspan dy="2.5">3</tspan>8</text>
<text x="895.6" y="0"><tspan class="o" dx="1.5" dy="-2.5">1</tspan><tspan dy="2.5">4</tspan>4</text>
<text x="922.2" y="0"><tspan class="o" dx="1.5" dy="-2.5">1</tspan><tspan dy="2.5">5</tspan>0</text>
<text x="948.8" y="0"><tspan class="o" dx="1.5" dy="-2.5">1</tspan><tspan dy="2.5">5</tspan>6</text>
<text x="975.3" y="0"><tspan class="o" dx="1.5" dy="-2.5">1</tspan><tspan dy="2.5">6</tspan>2</text>
<text x="1001.9" y="0"><tspan class="o" dx="1.5" dy="-2.5">1</tspan><tspan dy="2.5">6</tspan>8</text>
<text x="1028.5" y="0"><tspan class="o" dx="1.5" dy="-2.5">1</tspan><tspan dy="2.5">7</tspan>4</text>
<text x="1055.0" y="0"><tspan class="o" dx="1.5" dy="-2.5">1</tspan><tspan dy="2.5">8</tspan>0</text>
<text x="1081.6" y="0"><tspan class="o" dx="1.5" dy="-2.5">1</tspan><tspan dy="2.5">8</tspan>6</text>
<text x="1108.2" y="0"><tspan class="o" dx="1.5" dy="-2.5">1</tspan><tspan dy="2.5">9</tspan>2</text>
<text x="1134.8" y="0"><tspan class="o" dx="1.5" dy="-2.5">1</tspan><tspan dy="2.5">9</tspan>8</text>
<text x="1161.3" y="0">204</text>
<text x="1187.9" y="0">2<tspan class="o" dx="1.5" dy="-2.5">1</tspan><tspan dy="2.5">0</tspan></text>
<text x="1214.5" y="0">2<tspan class="o" dx="1.5" dy="-2.5">1</tspan><tspan dy="2.5">6</tspan></text>
<text x="1241.0" y="0">222</text>
<text x="1267.6" y="0">228</text>
<text x="1294.2" y="0">234</text>
<text x="1320.7" y="0">240</text>
<text x="1347.3" y="0">246</text>
<text x="1373.9" y="0">252</text>
<text x="1400.4" y="0">258</text>
<text x="1427.0" y="0">264</text>
<text x="1453.6" y="0">270</text>
<text x="1480.2" y="0">276</text>
<text x="1506.7" y="0">282</text>
<text x="1533.3" y="0">288</text>
<text x="1559.9" y="0">294</text>
<text x="1586.4" y="0">300</text>
<text x="1613.0" y="0">306</text>
<text x="1639.6" y="0">3<tspan class="o" dx="1.5" dy="-2.5">1</tspan><tspan dy="2.5">2</tspan></text>
<text x="1666.1" y="0">3<tspan class="o" dx="1.5" dy="-2.5">1</tspan><tspan dy="2.5">8</tspan></text>
<text x="1692.7" y="0">324</text>
<text x="1719.3" y="0">330</text>
<text x="1745.8" y="0">336</text>
<text x="1772.4" y="0">342</text>
<text x="1799.0" y="0">348</text>
<text x="1825.6" y="0">354</text>
<text x="1852.1" y="0">360</text>
<text x="1878.7" y="0">366</text>
</g>
<text font-size="42.6" text-anchor="middle" transform="translate(90.0,1353.9) rotate(-90) scale(1,1.035)">North (mm)</text>
<path d="M231.4 1848.0V1832.8M231.4 2491.9V2506.9M240.3 1848.0V1841.8M240.3 2491.9V2497.9M249.1 1848.0V1841.8M249.1 2491.9V2497.9M258.0 1848.0V1832.8M258.0 2491.9V2506.9M266.8 1848.0V1841.8M266.8 2491.9V2497.9M275.7 1848.0V1841.8M275.7 2491.9V2497.9M284.5 1848.0V1832.8M284.5 2491.9V2506.9M293.4 1848.0V1841.8M293.4 2491.9V2497.9M302.3 1848.0V1841.8M302.3 2491.9V2497.9M311.1 1848.0V1832.8M311.1 2491.9V2506.9M320.0 1848.0V1841.8M320.0 2491.9V2497.9M328.8 1848.0V1841.8M328.8 2491.9V2497.9M337.7 1848.0V1832.8M337.7 2491.9V2506.9M346.5 1848.0V1841.8M346.5 2491.9V2497.9M355.4 1848.0V1841.8M355.4 2491.9V2497.9M364.2 1848.0V1832.8M364.2 2491.9V2506.9M373.1 1848.0V1841.8M373.1 2491.9V2497.9M382.0 1848.0V1841.8M382.0 2491.9V2497.9M390.8 1848.0V1832.8M390.8 2491.9V2506.9M399.7 1848.0V1841.8M399.7 2491.9V2497.9M408.5 1848.0V1841.8M408.5 2491.9V2497.9M417.4 1848.0V1832.8M417.4 2491.9V2506.9M426.2 1848.0V1841.8M426.2 2491.9V2497.9M435.1 1848.0V1841.8M435.1 2491.9V2497.9M444.0 1848.0V1832.8M444.0 2491.9V2506.9M452.8 1848.0V1841.8M452.8 2491.9V2497.9M461.7 1848.0V1841.8M461.7 2491.9V2497.9M470.5 1848.0V1832.8M470.5 2491.9V2506.9M479.4 1848.0V1841.8M479.4 2491.9V2497.9M488.2 1848.0V1841.8M488.2 2491.9V2497.9M497.1 1848.0V1832.8M497.1 2491.9V2506.9M505.9 1848.0V1841.8M505.9 2491.9V2497.9M514.8 1848.0V1841.8M514.8 2491.9V2497.9M523.7 1848.0V1832.8M523.7 2491.9V2506.9M532.5 1848.0V1841.8M532.5 2491.9V2497.9M541.4 1848.0V1841.8M541.4 2491.9V2497.9M550.2 1848.0V1832.8M550.2 2491.9V2506.9M559.1 1848.0V1841.8M559.1 2491.9V2497.9M567.9 1848.0V1841.8M567.9 2491.9V2497.9M576.8 1848.0V1832.8M576.8 2491.9V2506.9M585.7 1848.0V1841.8M585.7 2491.9V2497.9M594.5 1848.0V1841.8M594.5 2491.9V2497.9M603.4 1848.0V1832.8M603.4 2491.9V2506.9M612.2 1848.0V1841.8M612.2 2491.9V2497.9M621.1 1848.0V1841.8M621.1 2491.9V2497.9M629.9 1848.0V1832.8M629.9 2491.9V2506.9M638.8 1848.0V1841.8M638.8 2491.9V2497.9M647.7 1848.0V1841.8M647.7 2491.9V2497.9M656.5 1848.0V1832.8M656.5 2491.9V2506.9M665.4 1848.0V1841.8M665.4 2491.9V2497.9M674.2 1848.0V1841.8M674.2 2491.9V2497.9M683.1 1848.0V1832.8M683.1 2491.9V2506.9M691.9 1848.0V1841.8M691.9 2491.9V2497.9M700.8 1848.0V1841.8M700.8 2491.9V2497.9M709.6 1848.0V1832.8M709.6 2491.9V2506.9M718.5 1848.0V1841.8M718.5 2491.9V2497.9M727.4 1848.0V1841.8M727.4 2491.9V2497.9M736.2 1848.0V1832.8M736.2 2491.9V2506.9M745.1 1848.0V1841.8M745.1 2491.9V2497.9M753.9 1848.0V1841.8M753.9 2491.9V2497.9M762.8 1848.0V1832.8M762.8 2491.9V2506.9M771.6 1848.0V1841.8M771.6 2491.9V2497.9M780.5 1848.0V1841.8M780.5 2491.9V2497.9M789.4 1848.0V1832.8M789.4 2491.9V2506.9M798.2 1848.0V1841.8M798.2 2491.9V2497.9M807.1 1848.0V1841.8M807.1 2491.9V2497.9M815.9 1848.0V1832.8M815.9 2491.9V2506.9M824.8 1848.0V1841.8M824.8 2491.9V2497.9M833.6 1848.0V1841.8M833.6 2491.9V2497.9M842.5 1848.0V1832.8M842.5 2491.9V2506.9M851.3 1848.0V1841.8M851.3 2491.9V2497.9M860.2 1848.0V1841.8M860.2 2491.9V2497.9M869.1 1848.0V1832.8M869.1 2491.9V2506.9M877.9 1848.0V1841.8M877.9 2491.9V2497.9M886.8 1848.0V1841.8M886.8 2491.9V2497.9M895.6 1848.0V1832.8M895.6 2491.9V2506.9M904.5 1848.0V1841.8M904.5 2491.9V2497.9M913.3 1848.0V1841.8M913.3 2491.9V2497.9M922.2 1848.0V1832.8M922.2 2491.9V2506.9M931.1 1848.0V1841.8M931.1 2491.9V2497.9M939.9 1848.0V1841.8M939.9 2491.9V2497.9M948.8 1848.0V1832.8M948.8 2491.9V2506.9M957.6 1848.0V1841.8M957.6 2491.9V2497.9M966.5 1848.0V1841.8M966.5 2491.9V2497.9M975.3 1848.0V1832.8M975.3 2491.9V2506.9M984.2 1848.0V1841.8M984.2 2491.9V2497.9M993.1 1848.0V1841.8M993.1 2491.9V2497.9M1001.9 1848.0V1832.8M1001.9 2491.9V2506.9M1010.8 1848.0V1841.8M1010.8 2491.9V2497.9M1019.6 1848.0V1841.8M1019.6 2491.9V2497.9M1028.5 1848.0V1832.8M1028.5 2491.9V2506.9M1037.3 1848.0V1841.8M1037.3 2491.9V2497.9M1046.2 1848.0V1841.8M1046.2 2491.9V2497.9M1055.0 1848.0V1832.8M1055.0 2491.9V2506.9M1063.9 1848.0V1841.8M1063.9 2491.9V2497.9M1072.8 1848.0V1841.8M1072.8 2491.9V2497.9M1081.6 1848.0V1832.8M1081.6 2491.9V2506.9M1090.5 1848.0V1841.8M1090.5 2491.9V2497.9M1099.3 1848.0V1841.8M1099.3 2491.9V2497.9M1108.2 1848.0V1832.8M1108.2 2491.9V2506.9M1117.0 1848.0V1841.8M1117.0 2491.9V2497.9M1125.9 1848.0V1841.8M1125.9 2491.9V2497.9M1134.8 1848.0V1832.8M1134.8 2491.9V2506.9M1143.6 1848.0V1841.8M1143.6 2491.9V2497.9M1152.5 1848.0V1841.8M1152.5 2491.9V2497.9M1161.3 1848.0V1832.8M1161.3 2491.9V2506.9M1170.2 1848.0V1841.8M1170.2 2491.9V2497.9M1179.0 1848.0V1841.8M1179.0 2491.9V2497.9M1187.9 1848.0V1832.8M1187.9 2491.9V2506.9M1196.7 1848.0V1841.8M1196.7 2491.9V2497.9M1205.6 1848.0V1841.8M1205.6 2491.9V2497.9M1214.5 1848.0V1832.8M1214.5 2491.9V2506.9M1223.3 1848.0V1841.8M1223.3 2491.9V2497.9M1232.2 1848.0V1841.8M1232.2 2491.9V2497.9M1241.0 1848.0V1832.8M1241.0 2491.9V2506.9M1249.9 1848.0V1841.8M1249.9 2491.9V2497.9M1258.7 1848.0V1841.8M1258.7 2491.9V2497.9M1267.6 1848.0V1832.8M1267.6 2491.9V2506.9M1276.5 1848.0V1841.8M1276.5 2491.9V2497.9M1285.3 1848.0V1841.8M1285.3 2491.9V2497.9M1294.2 1848.0V1832.8M1294.2 2491.9V2506.9M1303.0 1848.0V1841.8M1303.0 2491.9V2497.9M1311.9 1848.0V1841.8M1311.9 2491.9V2497.9M1320.7 1848.0V1832.8M1320.7 2491.9V2506.9M1329.6 1848.0V1841.8M1329.6 2491.9V2497.9M1338.5 1848.0V1841.8M1338.5 2491.9V2497.9M1347.3 1848.0V1832.8M1347.3 2491.9V2506.9M1356.2 1848.0V1841.8M1356.2 2491.9V2497.9M1365.0 1848.0V1841.8M1365.0 2491.9V2497.9M1373.9 1848.0V1832.8M1373.9 2491.9V2506.9M1382.7 1848.0V1841.8M1382.7 2491.9V2497.9M1391.6 1848.0V1841.8M1391.6 2491.9V2497.9M1400.4 1848.0V1832.8M1400.4 2491.9V2506.9M1409.3 1848.0V1841.8M1409.3 2491.9V2497.9M1418.2 1848.0V1841.8M1418.2 2491.9V2497.9M1427.0 1848.0V1832.8M1427.0 2491.9V2506.9M1435.9 1848.0V1841.8M1435.9 2491.9V2497.9M1444.7 1848.0V1841.8M1444.7 2491.9V2497.9M1453.6 1848.0V1832.8M1453.6 2491.9V2506.9M1462.4 1848.0V1841.8M1462.4 2491.9V2497.9M1471.3 1848.0V1841.8M1471.3 2491.9V2497.9M1480.2 1848.0V1832.8M1480.2 2491.9V2506.9M1489.0 1848.0V1841.8M1489.0 2491.9V2497.9M1497.9 1848.0V1841.8M1497.9 2491.9V2497.9M1506.7 1848.0V1832.8M1506.7 2491.9V2506.9M1515.6 1848.0V1841.8M1515.6 2491.9V2497.9M1524.4 1848.0V1841.8M1524.4 2491.9V2497.9M1533.3 1848.0V1832.8M1533.3 2491.9V2506.9M1542.1 1848.0V1841.8M1542.1 2491.9V2497.9M1551.0 1848.0V1841.8M1551.0 2491.9V2497.9M1559.9 1848.0V1832.8M1559.9 2491.9V2506.9M1568.7 1848.0V1841.8M1568.7 2491.9V2497.9M1577.6 1848.0V1841.8M1577.6 2491.9V2497.9M1586.4 1848.0V1832.8M1586.4 2491.9V2506.9M1595.3 1848.0V1841.8M1595.3 2491.9V2497.9M1604.1 1848.0V1841.8M1604.1 2491.9V2497.9M1613.0 1848.0V1832.8M1613.0 2491.9V2506.9M1621.9 1848.0V1841.8M1621.9 2491.9V2497.9M1630.7 1848.0V1841.8M1630.7 2491.9V2497.9M1639.6 1848.0V1832.8M1639.6 2491.9V2506.9M1648.4 1848.0V1841.8M1648.4 2491.9V2497.9M1657.3 1848.0V1841.8M1657.3 2491.9V2497.9M1666.1 1848.0V1832.8M1666.1 2491.9V2506.9M1675.0 1848.0V1841.8M1675.0 2491.9V2497.9M1683.8 1848.0V1841.8M1683.8 2491.9V2497.9M1692.7 1848.0V1832.8M1692.7 2491.9V2506.9M1701.6 1848.0V1841.8M1701.6 2491.9V2497.9M1710.4 1848.0V1841.8M1710.4 2491.9V2497.9M1719.3 1848.0V1832.8M1719.3 2491.9V2506.9M1728.1 1848.0V1841.8M1728.1 2491.9V2497.9M1737.0 1848.0V1841.8M1737.0 2491.9V2497.9M1745.8 1848.0V1832.8M1745.8 2491.9V2506.9M1754.7 1848.0V1841.8M1754.7 2491.9V2497.9M1763.6 1848.0V1841.8M1763.6 2491.9V2497.9M1772.4 1848.0V1832.8M1772.4 2491.9V2506.9M1781.3 1848.0V1841.8M1781.3 2491.9V2497.9M1790.1 1848.0V1841.8M1790.1 2491.9V2497.9M1799.0 1848.0V1832.8M1799.0 2491.9V2506.9M1807.8 1848.0V1841.8M1807.8 2491.9V2497.9M1816.7 1848.0V1841.8M1816.7 2491.9V2497.9M1825.6 1848.0V1832.8M1825.6 2491.9V2506.9M1834.4 1848.0V1841.8M1834.4 2491.9V2497.9M1843.3 1848.0V1841.8M1843.3 2491.9V2497.9M1852.1 1848.0V1832.8M1852.1 2491.9V2506.9M1861.0 1848.0V1841.8M1861.0 2491.9V2497.9M1869.8 1848.0V1841.8M1869.8 2491.9V2497.9M1878.7 1848.0V1832.8M1878.7 2491.9V2506.9M222.9 1936.0H208.3M1886.7 1936.0H1901.5M222.9 2044.0H208.3M1886.7 2044.0H1901.5M222.9 2152.1H208.3M1886.7 2152.1H1901.5M222.9 2260.1H208.3M1886.7 2260.1H1901.5M222.9 2368.3H208.3M1886.7 2368.3H1901.5M222.9 2476.4H208.3M1886.7 2476.4H1901.5" stroke="#000" stroke-width="2.6" fill="none" stroke-linecap="round"/>
<rect x="225.9" y="1851.0" width="1657.8" height="637.9" fill="none" stroke="#000" stroke-width="5.8"/>
<g class="b" font-size="42" text-anchor="end">
<text transform="translate(190,1952.0) scale(1,1.085)">100</text>
<text transform="translate(190,2060.0) scale(1,1.085)">80</text>
<text transform="translate(190,2168.1) scale(1,1.085)">60</text>
<text transform="translate(190,2276.1) scale(1,1.085)">40</text>
<text transform="translate(190,2384.3) scale(1,1.085)">20</text>
<text transform="translate(190,2492.4) scale(1,1.085)">0</text>
</g>
<g class="b" font-size="42" text-anchor="middle" transform="translate(0,2556.1) scale(1,1.085)">
<text x="231.4" y="0">−6</text>
<text x="258.0" y="0">0</text>
<text x="284.5" y="0">6</text>
<text x="311.1" y="0"><tspan class="o" dx="1.5" dy="-2.5">1</tspan><tspan dy="2.5">2</tspan></text>
<text x="337.7" y="0"><tspan class="o" dx="1.5" dy="-2.5">1</tspan><tspan dy="2.5">8</tspan></text>
<text x="364.2" y="0">24</text>
<text x="390.8" y="0">30</text>
<text x="417.4" y="0">36</text>
<text x="444.0" y="0">42</text>
<text x="470.5" y="0">48</text>
<text x="497.1" y="0">54</text>
<text x="523.7" y="0">60</text>
<text x="550.2" y="0">66</text>
<text x="576.8" y="0">72</text>
<text x="603.4" y="0">78</text>
<text x="629.9" y="0">84</text>
<text x="656.5" y="0">90</text>
<text x="683.1" y="0">96</text>
<text x="709.6" y="0"><tspan class="o" dx="1.5" dy="-2.5">1</tspan><tspan dy="2.5">0</tspan>2</text>
<text x="736.2" y="0"><tspan class="o" dx="1.5" dy="-2.5">1</tspan><tspan dy="2.5">0</tspan>8</text>
<text x="762.8" y="0"><tspan class="o" dx="1.5" dy="-2.5">1</tspan><tspan class="o" dx="1.5">1</tspan><tspan dy="2.5">4</tspan></text>
<text x="789.4" y="0"><tspan class="o" dx="1.5" dy="-2.5">1</tspan><tspan dy="2.5">2</tspan>0</text>
<text x="815.9" y="0"><tspan class="o" dx="1.5" dy="-2.5">1</tspan><tspan dy="2.5">2</tspan>6</text>
<text x="842.5" y="0"><tspan class="o" dx="1.5" dy="-2.5">1</tspan><tspan dy="2.5">3</tspan>2</text>
<text x="869.1" y="0"><tspan class="o" dx="1.5" dy="-2.5">1</tspan><tspan dy="2.5">3</tspan>8</text>
<text x="895.6" y="0"><tspan class="o" dx="1.5" dy="-2.5">1</tspan><tspan dy="2.5">4</tspan>4</text>
<text x="922.2" y="0"><tspan class="o" dx="1.5" dy="-2.5">1</tspan><tspan dy="2.5">5</tspan>0</text>
<text x="948.8" y="0"><tspan class="o" dx="1.5" dy="-2.5">1</tspan><tspan dy="2.5">5</tspan>6</text>
<text x="975.3" y="0"><tspan class="o" dx="1.5" dy="-2.5">1</tspan><tspan dy="2.5">6</tspan>2</text>
<text x="1001.9" y="0"><tspan class="o" dx="1.5" dy="-2.5">1</tspan><tspan dy="2.5">6</tspan>8</text>
<text x="1028.5" y="0"><tspan class="o" dx="1.5" dy="-2.5">1</tspan><tspan dy="2.5">7</tspan>4</text>
<text x="1055.0" y="0"><tspan class="o" dx="1.5" dy="-2.5">1</tspan><tspan dy="2.5">8</tspan>0</text>
<text x="1081.6" y="0"><tspan class="o" dx="1.5" dy="-2.5">1</tspan><tspan dy="2.5">8</tspan>6</text>
<text x="1108.2" y="0"><tspan class="o" dx="1.5" dy="-2.5">1</tspan><tspan dy="2.5">9</tspan>2</text>
<text x="1134.8" y="0"><tspan class="o" dx="1.5" dy="-2.5">1</tspan><tspan dy="2.5">9</tspan>8</text>
<text x="1161.3" y="0">204</text>
<text x="1187.9" y="0">2<tspan class="o" dx="1.5" dy="-2.5">1</tspan><tspan dy="2.5">0</tspan></text>
<text x="1214.5" y="0">2<tspan class="o" dx="1.5" dy="-2.5">1</tspan><tspan dy="2.5">6</tspan></text>
<text x="1241.0" y="0">222</text>
<text x="1267.6" y="0">228</text>
<text x="1294.2" y="0">234</text>
<text x="1320.7" y="0">240</text>
<text x="1347.3" y="0">246</text>
<text x="1373.9" y="0">252</text>
<text x="1400.4" y="0">258</text>
<text x="1427.0" y="0">264</text>
<text x="1453.6" y="0">270</text>
<text x="1480.2" y="0">276</text>
<text x="1506.7" y="0">282</text>
<text x="1533.3" y="0">288</text>
<text x="1559.9" y="0">294</text>
<text x="1586.4" y="0">300</text>
<text x="1613.0" y="0">306</text>
<text x="1639.6" y="0">3<tspan class="o" dx="1.5" dy="-2.5">1</tspan><tspan dy="2.5">2</tspan></text>
<text x="1666.1" y="0">3<tspan class="o" dx="1.5" dy="-2.5">1</tspan><tspan dy="2.5">8</tspan></text>
<text x="1692.7" y="0">324</text>
<text x="1719.3" y="0">330</text>
<text x="1745.8" y="0">336</text>
<text x="1772.4" y="0">342</text>
<text x="1799.0" y="0">348</text>
<text x="1825.6" y="0">354</text>
<text x="1852.1" y="0">360</text>
<text x="1878.7" y="0">366</text>
</g>
<text font-size="42.6" text-anchor="middle" transform="translate(91.7,2169.9) rotate(-90) scale(1,1.035)">Up (mm)</text>
<text font-size="42.6" text-anchor="middle" transform="translate(1053.6,2613.7) scale(1,1.035)">Time (hours since beginning of first day UTC)</text>
<rect x="225.9" y="2717.8" width="1657.8" height="153.4" fill="none" stroke="#000" stroke-width="5.8"/>
<g class="b" font-size="42.6" text-anchor="middle"><text transform="translate(1055.5,2756.8) scale(1,1.035)">Processed Using JPL Rapid Orbits</text><text transform="translate(1054.6,2796.8) scale(1,1.035)">by the Nevada Geodetic Laboratory.</text><text transform="translate(1054.8,2837.7) scale(1,1.035)">Plotted on 2026-Jan-10.</text></g>
</svg></body></html>
